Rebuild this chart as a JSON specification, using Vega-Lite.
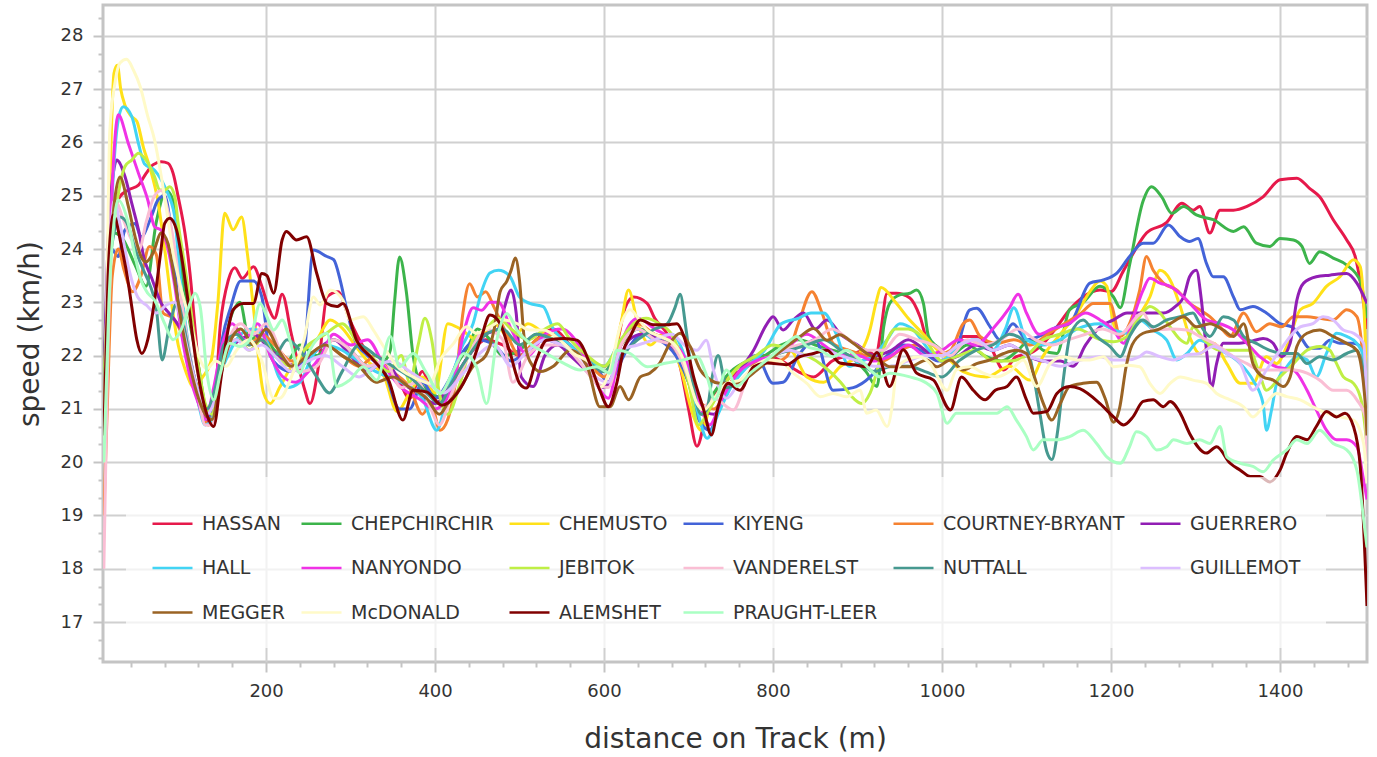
{
  "$schema": "https://vega.github.io/schema/vega-lite/v6.json",
  "description": "Speed along the track for 16 runners",
  "autosize": "none",
  "width": 1264,
  "height": 657,
  "padding": {"left": 103, "top": 5, "right": 10, "bottom": 95},
  "background": "white",
  "config": {
    "view": {"stroke": "#c4c4c4", "strokeWidth": 3},
    "font": "DejaVu Sans",
    "axis": {
      "domain": false,
      "gridColor": "#d0d0d0",
      "gridWidth": 2,
      "tickColor": "#c4c4c4",
      "tickWidth": 2,
      "labelFont": "DejaVu Sans",
      "labelFontSize": 18,
      "labelColor": "#333333",
      "titleFont": "DejaVu Sans",
      "titleFontSize": 28,
      "titleFontWeight": "normal",
      "titleColor": "#333333"
    }
  },
  "data": {
    "values": [
      {"n":"HASSAN","d":8,"v":21.0},{"n":"HASSAN","d":15,"v":23.8},{"n":"HASSAN","d":22,"v":24.8},{"n":"HASSAN","d":27,"v":24.98},{"n":"HASSAN","d":37,"v":25.11},{"n":"HASSAN","d":49,"v":25.2},{"n":"HASSAN","d":58,"v":25.42},{"n":"HASSAN","d":66,"v":25.58},{"n":"HASSAN","d":76,"v":25.64},{"n":"HASSAN","d":84,"v":25.61},{"n":"HASSAN","d":90,"v":25.42},{"n":"HASSAN","d":96,"v":24.98},{"n":"HASSAN","d":104,"v":24.3},{"n":"HASSAN","d":110,"v":23.54},{"n":"HASSAN","d":116,"v":22.5},{"n":"HASSAN","d":122,"v":21.5},{"n":"HASSAN","d":130,"v":20.8},{"n":"HASSAN","d":137,"v":20.7},{"n":"HASSAN","d":146,"v":22.6},{"n":"HASSAN","d":155,"v":23.4},{"n":"HASSAN","d":163,"v":23.65},{"n":"HASSAN","d":172,"v":23.45},{"n":"HASSAN","d":185,"v":23.67},{"n":"HASSAN","d":195,"v":23.3},{"n":"HASSAN","d":203,"v":22.9},{"n":"HASSAN","d":210,"v":22.7},{"n":"HASSAN","d":219,"v":23.15},{"n":"HASSAN","d":230,"v":22.4},{"n":"HASSAN","d":245,"v":21.4},{"n":"HASSAN","d":252,"v":21.1},{"n":"HASSAN","d":262,"v":21.8},{"n":"HASSAN","d":272,"v":23.1},{"n":"HASSAN","d":285,"v":23.2},{"n":"HASSAN","d":299,"v":22.67},{"n":"HASSAN","d":315,"v":22.17},{"n":"HASSAN","d":335,"v":21.8},{"n":"HASSAN","d":355,"v":21.6},{"n":"HASSAN","d":370,"v":21.2},{"n":"HASSAN","d":385,"v":21.7},{"n":"HASSAN","d":400,"v":21.2},{"n":"HASSAN","d":420,"v":21.5},{"n":"HASSAN","d":440,"v":22.0},{"n":"HASSAN","d":460,"v":22.3},{"n":"HASSAN","d":480,"v":22.2},{"n":"HASSAN","d":500,"v":22.0},{"n":"HASSAN","d":520,"v":22.3},{"n":"HASSAN","d":540,"v":22.5},{"n":"HASSAN","d":560,"v":22.2},{"n":"HASSAN","d":580,"v":21.9},{"n":"HASSAN","d":600,"v":21.8},{"n":"HASSAN","d":615,"v":22.2},{"n":"HASSAN","d":625,"v":22.9},{"n":"HASSAN","d":635,"v":23.1},{"n":"HASSAN","d":651,"v":22.98},{"n":"HASSAN","d":660,"v":22.7},{"n":"HASSAN","d":675,"v":22.4},{"n":"HASSAN","d":690,"v":21.8},{"n":"HASSAN","d":700,"v":21.0},{"n":"HASSAN","d":710,"v":20.3},{"n":"HASSAN","d":722,"v":20.98},{"n":"HASSAN","d":733,"v":21.35},{"n":"HASSAN","d":750,"v":21.6},{"n":"HASSAN","d":770,"v":21.8},{"n":"HASSAN","d":790,"v":22.0},{"n":"HASSAN","d":810,"v":21.9},{"n":"HASSAN","d":830,"v":21.7},{"n":"HASSAN","d":848,"v":21.6},{"n":"HASSAN","d":870,"v":21.9},{"n":"HASSAN","d":890,"v":22.0},{"n":"HASSAN","d":910,"v":22.1},{"n":"HASSAN","d":922,"v":22.0},{"n":"HASSAN","d":927,"v":22.4},{"n":"HASSAN","d":935,"v":23.17},{"n":"HASSAN","d":946,"v":23.17},{"n":"HASSAN","d":962,"v":23.08},{"n":"HASSAN","d":974,"v":22.73},{"n":"HASSAN","d":984,"v":22.23},{"n":"HASSAN","d":994,"v":22.17},{"n":"HASSAN","d":1010,"v":21.92},{"n":"HASSAN","d":1025,"v":22.36},{"n":"HASSAN","d":1041,"v":22.36},{"n":"HASSAN","d":1057,"v":22.17},{"n":"HASSAN","d":1073,"v":21.73},{"n":"HASSAN","d":1088,"v":21.98},{"n":"HASSAN","d":1104,"v":22.04},{"n":"HASSAN","d":1120,"v":22.23},{"n":"HASSAN","d":1136,"v":22.54},{"n":"HASSAN","d":1151,"v":22.86},{"n":"HASSAN","d":1167,"v":23.1},{"n":"HASSAN","d":1187,"v":23.23},{"n":"HASSAN","d":1200,"v":23.2},{"n":"HASSAN","d":1215,"v":23.6},{"n":"HASSAN","d":1242,"v":24.3},{"n":"HASSAN","d":1266,"v":24.5},{"n":"HASSAN","d":1284,"v":24.86},{"n":"HASSAN","d":1297,"v":24.73},{"n":"HASSAN","d":1305,"v":24.8},{"n":"HASSAN","d":1317,"v":24.3},{"n":"HASSAN","d":1329,"v":24.73},{"n":"HASSAN","d":1345,"v":24.73},{"n":"HASSAN","d":1361,"v":24.8},{"n":"HASSAN","d":1380,"v":24.98},{"n":"HASSAN","d":1400,"v":25.3},{"n":"HASSAN","d":1420,"v":25.33},{"n":"HASSAN","d":1435,"v":25.14},{"n":"HASSAN","d":1447,"v":24.98},{"n":"HASSAN","d":1463,"v":24.55},{"n":"HASSAN","d":1479,"v":24.17},{"n":"HASSAN","d":1489,"v":23.86},{"n":"HASSAN","d":1497,"v":23.2},{"n":"HASSAN","d":1503,"v":22.5},
      {"n":"CHEPCHIRCHIR","d":8,"v":21.5},{"n":"CHEPCHIRCHIR","d":14,"v":23.8},{"n":"CHEPCHIRCHIR","d":20,"v":24.3},{"n":"CHEPCHIRCHIR","d":30,"v":24.2},{"n":"CHEPCHIRCHIR","d":45,"v":23.7},{"n":"CHEPCHIRCHIR","d":58,"v":23.3},{"n":"CHEPCHIRCHIR","d":70,"v":24.5},{"n":"CHEPCHIRCHIR","d":82,"v":25.1},{"n":"CHEPCHIRCHIR","d":92,"v":24.8},{"n":"CHEPCHIRCHIR","d":100,"v":23.6},{"n":"CHEPCHIRCHIR","d":110,"v":22.6},{"n":"CHEPCHIRCHIR","d":120,"v":21.8},{"n":"CHEPCHIRCHIR","d":130,"v":21.0},{"n":"CHEPCHIRCHIR","d":140,"v":21.3},{"n":"CHEPCHIRCHIR","d":150,"v":22.2},{"n":"CHEPCHIRCHIR","d":169,"v":23.0},{"n":"CHEPCHIRCHIR","d":180,"v":22.3},{"n":"CHEPCHIRCHIR","d":195,"v":22.4},{"n":"CHEPCHIRCHIR","d":210,"v":22.1},{"n":"CHEPCHIRCHIR","d":225,"v":21.9},{"n":"CHEPCHIRCHIR","d":240,"v":22.2},{"n":"CHEPCHIRCHIR","d":260,"v":22.0},{"n":"CHEPCHIRCHIR","d":280,"v":22.3},{"n":"CHEPCHIRCHIR","d":300,"v":22.1},{"n":"CHEPCHIRCHIR","d":320,"v":21.8},{"n":"CHEPCHIRCHIR","d":340,"v":21.9},{"n":"CHEPCHIRCHIR","d":347,"v":22.1},{"n":"CHEPCHIRCHIR","d":352,"v":23.0},{"n":"CHEPCHIRCHIR","d":358,"v":23.85},{"n":"CHEPCHIRCHIR","d":366,"v":23.2},{"n":"CHEPCHIRCHIR","d":374,"v":22.0},{"n":"CHEPCHIRCHIR","d":382,"v":21.5},{"n":"CHEPCHIRCHIR","d":395,"v":21.3},{"n":"CHEPCHIRCHIR","d":410,"v":21.2},{"n":"CHEPCHIRCHIR","d":425,"v":21.8},{"n":"CHEPCHIRCHIR","d":440,"v":22.2},{"n":"CHEPCHIRCHIR","d":450,"v":22.5},{"n":"CHEPCHIRCHIR","d":465,"v":22.3},{"n":"CHEPCHIRCHIR","d":480,"v":22.0},{"n":"CHEPCHIRCHIR","d":500,"v":22.1},{"n":"CHEPCHIRCHIR","d":520,"v":22.4},{"n":"CHEPCHIRCHIR","d":540,"v":22.3},{"n":"CHEPCHIRCHIR","d":560,"v":22.1},{"n":"CHEPCHIRCHIR","d":580,"v":21.9},{"n":"CHEPCHIRCHIR","d":600,"v":21.7},{"n":"CHEPCHIRCHIR","d":620,"v":22.2},{"n":"CHEPCHIRCHIR","d":640,"v":22.5},{"n":"CHEPCHIRCHIR","d":660,"v":22.4},{"n":"CHEPCHIRCHIR","d":680,"v":22.2},{"n":"CHEPCHIRCHIR","d":700,"v":21.5},{"n":"CHEPCHIRCHIR","d":715,"v":20.9},{"n":"CHEPCHIRCHIR","d":730,"v":21.3},{"n":"CHEPCHIRCHIR","d":750,"v":21.7},{"n":"CHEPCHIRCHIR","d":770,"v":21.9},{"n":"CHEPCHIRCHIR","d":790,"v":22.0},{"n":"CHEPCHIRCHIR","d":810,"v":22.2},{"n":"CHEPCHIRCHIR","d":830,"v":22.3},{"n":"CHEPCHIRCHIR","d":850,"v":22.2},{"n":"CHEPCHIRCHIR","d":870,"v":22.1},{"n":"CHEPCHIRCHIR","d":890,"v":22.0},{"n":"CHEPCHIRCHIR","d":910,"v":21.7},{"n":"CHEPCHIRCHIR","d":923,"v":21.42},{"n":"CHEPCHIRCHIR","d":931,"v":22.54},{"n":"CHEPCHIRCHIR","d":938,"v":22.98},{"n":"CHEPCHIRCHIR","d":950,"v":23.14},{"n":"CHEPCHIRCHIR","d":962,"v":23.17},{"n":"CHEPCHIRCHIR","d":970,"v":23.23},{"n":"CHEPCHIRCHIR","d":978,"v":22.98},{"n":"CHEPCHIRCHIR","d":984,"v":22.36},{"n":"CHEPCHIRCHIR","d":994,"v":22.17},{"n":"CHEPCHIRCHIR","d":1010,"v":22.0},{"n":"CHEPCHIRCHIR","d":1030,"v":22.2},{"n":"CHEPCHIRCHIR","d":1050,"v":22.0},{"n":"CHEPCHIRCHIR","d":1070,"v":21.9},{"n":"CHEPCHIRCHIR","d":1090,"v":22.1},{"n":"CHEPCHIRCHIR","d":1104,"v":22.3},{"n":"CHEPCHIRCHIR","d":1120,"v":22.1},{"n":"CHEPCHIRCHIR","d":1136,"v":22.04},{"n":"CHEPCHIRCHIR","d":1151,"v":22.86},{"n":"CHEPCHIRCHIR","d":1167,"v":23.0},{"n":"CHEPCHIRCHIR","d":1187,"v":23.3},{"n":"CHEPCHIRCHIR","d":1203,"v":23.1},{"n":"CHEPCHIRCHIR","d":1211,"v":22.9},{"n":"CHEPCHIRCHIR","d":1222,"v":23.7},{"n":"CHEPCHIRCHIR","d":1238,"v":24.9},{"n":"CHEPCHIRCHIR","d":1248,"v":25.17},{"n":"CHEPCHIRCHIR","d":1260,"v":24.98},{"n":"CHEPCHIRCHIR","d":1272,"v":24.67},{"n":"CHEPCHIRCHIR","d":1286,"v":24.8},{"n":"CHEPCHIRCHIR","d":1301,"v":24.64},{"n":"CHEPCHIRCHIR","d":1321,"v":24.55},{"n":"CHEPCHIRCHIR","d":1345,"v":24.33},{"n":"CHEPCHIRCHIR","d":1357,"v":24.42},{"n":"CHEPCHIRCHIR","d":1372,"v":24.11},{"n":"CHEPCHIRCHIR","d":1388,"v":24.05},{"n":"CHEPCHIRCHIR","d":1400,"v":24.2},{"n":"CHEPCHIRCHIR","d":1416,"v":24.17},{"n":"CHEPCHIRCHIR","d":1426,"v":24.05},{"n":"CHEPCHIRCHIR","d":1435,"v":23.73},{"n":"CHEPCHIRCHIR","d":1447,"v":23.95},{"n":"CHEPCHIRCHIR","d":1463,"v":23.83},{"n":"CHEPCHIRCHIR","d":1479,"v":23.7},{"n":"CHEPCHIRCHIR","d":1495,"v":23.4},{"n":"CHEPCHIRCHIR","d":1503,"v":22.7},
      {"n":"CHEMUSTO","d":8,"v":20.5},{"n":"CHEMUSTO","d":14,"v":24.5},{"n":"CHEMUSTO","d":20,"v":27.3},{"n":"CHEMUSTO","d":24,"v":27.45},{"n":"CHEMUSTO","d":28,"v":27.0},{"n":"CHEMUSTO","d":33,"v":26.7},{"n":"CHEMUSTO","d":40,"v":26.5},{"n":"CHEMUSTO","d":47,"v":26.4},{"n":"CHEMUSTO","d":55,"v":25.9},{"n":"CHEMUSTO","d":63,"v":25.5},{"n":"CHEMUSTO","d":72,"v":24.9},{"n":"CHEMUSTO","d":80,"v":24.0},{"n":"CHEMUSTO","d":88,"v":23.0},{"n":"CHEMUSTO","d":96,"v":22.2},{"n":"CHEMUSTO","d":105,"v":21.7},{"n":"CHEMUSTO","d":115,"v":21.4},{"n":"CHEMUSTO","d":125,"v":21.6},{"n":"CHEMUSTO","d":135,"v":21.9},{"n":"CHEMUSTO","d":143,"v":23.0},{"n":"CHEMUSTO","d":151,"v":24.67},{"n":"CHEMUSTO","d":161,"v":24.36},{"n":"CHEMUSTO","d":171,"v":24.6},{"n":"CHEMUSTO","d":178,"v":23.9},{"n":"CHEMUSTO","d":185,"v":22.9},{"n":"CHEMUSTO","d":197,"v":21.3},{"n":"CHEMUSTO","d":205,"v":21.1},{"n":"CHEMUSTO","d":216,"v":21.4},{"n":"CHEMUSTO","d":230,"v":21.8},{"n":"CHEMUSTO","d":245,"v":22.1},{"n":"CHEMUSTO","d":260,"v":22.3},{"n":"CHEMUSTO","d":276,"v":22.67},{"n":"CHEMUSTO","d":291,"v":22.5},{"n":"CHEMUSTO","d":305,"v":22.2},{"n":"CHEMUSTO","d":320,"v":21.9},{"n":"CHEMUSTO","d":340,"v":21.6},{"n":"CHEMUSTO","d":355,"v":20.95},{"n":"CHEMUSTO","d":370,"v":21.3},{"n":"CHEMUSTO","d":385,"v":21.6},{"n":"CHEMUSTO","d":400,"v":21.3},{"n":"CHEMUSTO","d":415,"v":22.6},{"n":"CHEMUSTO","d":430,"v":22.5},{"n":"CHEMUSTO","d":450,"v":22.3},{"n":"CHEMUSTO","d":470,"v":22.6},{"n":"CHEMUSTO","d":490,"v":22.3},{"n":"CHEMUSTO","d":510,"v":22.6},{"n":"CHEMUSTO","d":530,"v":22.4},{"n":"CHEMUSTO","d":550,"v":22.2},{"n":"CHEMUSTO","d":570,"v":22.0},{"n":"CHEMUSTO","d":590,"v":21.8},{"n":"CHEMUSTO","d":605,"v":21.7},{"n":"CHEMUSTO","d":620,"v":22.6},{"n":"CHEMUSTO","d":629,"v":23.23},{"n":"CHEMUSTO","d":640,"v":22.6},{"n":"CHEMUSTO","d":655,"v":22.2},{"n":"CHEMUSTO","d":670,"v":22.4},{"n":"CHEMUSTO","d":690,"v":21.8},{"n":"CHEMUSTO","d":705,"v":20.9},{"n":"CHEMUSTO","d":715,"v":20.6},{"n":"CHEMUSTO","d":725,"v":21.0},{"n":"CHEMUSTO","d":740,"v":21.4},{"n":"CHEMUSTO","d":760,"v":21.8},{"n":"CHEMUSTO","d":780,"v":21.9},{"n":"CHEMUSTO","d":800,"v":22.0},{"n":"CHEMUSTO","d":820,"v":22.1},{"n":"CHEMUSTO","d":840,"v":21.6},{"n":"CHEMUSTO","d":860,"v":21.5},{"n":"CHEMUSTO","d":880,"v":21.8},{"n":"CHEMUSTO","d":900,"v":22.0},{"n":"CHEMUSTO","d":915,"v":22.5},{"n":"CHEMUSTO","d":922,"v":23.0},{"n":"CHEMUSTO","d":928,"v":23.28},{"n":"CHEMUSTO","d":945,"v":23.0},{"n":"CHEMUSTO","d":960,"v":22.7},{"n":"CHEMUSTO","d":978,"v":22.4},{"n":"CHEMUSTO","d":995,"v":22.1},{"n":"CHEMUSTO","d":1010,"v":21.9},{"n":"CHEMUSTO","d":1025,"v":21.7},{"n":"CHEMUSTO","d":1053,"v":21.6},{"n":"CHEMUSTO","d":1080,"v":21.8},{"n":"CHEMUSTO","d":1104,"v":21.54},{"n":"CHEMUSTO","d":1120,"v":22.0},{"n":"CHEMUSTO","d":1140,"v":22.4},{"n":"CHEMUSTO","d":1160,"v":22.8},{"n":"CHEMUSTO","d":1175,"v":23.2},{"n":"CHEMUSTO","d":1187,"v":23.4},{"n":"CHEMUSTO","d":1195,"v":23.3},{"n":"CHEMUSTO","d":1203,"v":22.6},{"n":"CHEMUSTO","d":1211,"v":22.4},{"n":"CHEMUSTO","d":1225,"v":22.6},{"n":"CHEMUSTO","d":1246,"v":23.1},{"n":"CHEMUSTO","d":1258,"v":23.6},{"n":"CHEMUSTO","d":1270,"v":23.42},{"n":"CHEMUSTO","d":1282,"v":22.92},{"n":"CHEMUSTO","d":1293,"v":22.36},{"n":"CHEMUSTO","d":1305,"v":22.04},{"n":"CHEMUSTO","d":1321,"v":22.23},{"n":"CHEMUSTO","d":1337,"v":21.85},{"n":"CHEMUSTO","d":1353,"v":21.48},{"n":"CHEMUSTO","d":1368,"v":21.48},{"n":"CHEMUSTO","d":1384,"v":21.98},{"n":"CHEMUSTO","d":1396,"v":21.85},{"n":"CHEMUSTO","d":1408,"v":22.17},{"n":"CHEMUSTO","d":1424,"v":22.86},{"n":"CHEMUSTO","d":1439,"v":22.98},{"n":"CHEMUSTO","d":1455,"v":23.3},{"n":"CHEMUSTO","d":1471,"v":23.48},{"n":"CHEMUSTO","d":1487,"v":23.8},{"n":"CHEMUSTO","d":1495,"v":23.67},{"n":"CHEMUSTO","d":1500,"v":22.7},{"n":"CHEMUSTO","d":1503,"v":21.5},
      {"n":"KIYENG","d":8,"v":21.5},{"n":"KIYENG","d":14,"v":23.5},{"n":"KIYENG","d":17,"v":24.0},{"n":"KIYENG","d":25,"v":23.86},{"n":"KIYENG","d":33,"v":24.36},{"n":"KIYENG","d":45,"v":24.48},{"n":"KIYENG","d":52,"v":24.23},{"n":"KIYENG","d":64,"v":24.6},{"n":"KIYENG","d":72,"v":24.92},{"n":"KIYENG","d":80,"v":25.0},{"n":"KIYENG","d":88,"v":24.3},{"n":"KIYENG","d":96,"v":23.0},{"n":"KIYENG","d":104,"v":22.3},{"n":"KIYENG","d":112,"v":21.6},{"n":"KIYENG","d":120,"v":21.2},{"n":"KIYENG","d":128,"v":20.8},{"n":"KIYENG","d":138,"v":21.0},{"n":"KIYENG","d":148,"v":22.3},{"n":"KIYENG","d":158,"v":22.9},{"n":"KIYENG","d":170,"v":23.4},{"n":"KIYENG","d":185,"v":23.4},{"n":"KIYENG","d":195,"v":23.1},{"n":"KIYENG","d":205,"v":22.0},{"n":"KIYENG","d":215,"v":21.8},{"n":"KIYENG","d":230,"v":21.7},{"n":"KIYENG","d":244,"v":21.92},{"n":"KIYENG","d":256,"v":23.98},{"n":"KIYENG","d":272,"v":23.86},{"n":"KIYENG","d":280,"v":23.8},{"n":"KIYENG","d":288,"v":23.4},{"n":"KIYENG","d":295,"v":22.9},{"n":"KIYENG","d":305,"v":22.3},{"n":"KIYENG","d":320,"v":22.0},{"n":"KIYENG","d":340,"v":21.7},{"n":"KIYENG","d":358,"v":21.0},{"n":"KIYENG","d":370,"v":21.0},{"n":"KIYENG","d":385,"v":21.5},{"n":"KIYENG","d":400,"v":21.2},{"n":"KIYENG","d":415,"v":21.5},{"n":"KIYENG","d":430,"v":22.0},{"n":"KIYENG","d":450,"v":22.3},{"n":"KIYENG","d":470,"v":22.2},{"n":"KIYENG","d":490,"v":21.9},{"n":"KIYENG","d":510,"v":22.1},{"n":"KIYENG","d":530,"v":22.3},{"n":"KIYENG","d":550,"v":22.2},{"n":"KIYENG","d":570,"v":22.0},{"n":"KIYENG","d":590,"v":21.8},{"n":"KIYENG","d":605,"v":21.5},{"n":"KIYENG","d":627,"v":22.1},{"n":"KIYENG","d":645,"v":22.4},{"n":"KIYENG","d":665,"v":22.3},{"n":"KIYENG","d":685,"v":22.0},{"n":"KIYENG","d":700,"v":21.5},{"n":"KIYENG","d":712,"v":20.8},{"n":"KIYENG","d":725,"v":20.6},{"n":"KIYENG","d":740,"v":21.2},{"n":"KIYENG","d":760,"v":21.7},{"n":"KIYENG","d":780,"v":22.0},{"n":"KIYENG","d":800,"v":21.48},{"n":"KIYENG","d":812,"v":21.5},{"n":"KIYENG","d":830,"v":22.0},{"n":"KIYENG","d":850,"v":22.3},{"n":"KIYENG","d":871,"v":21.35},{"n":"KIYENG","d":895,"v":21.4},{"n":"KIYENG","d":915,"v":21.6},{"n":"KIYENG","d":935,"v":22.0},{"n":"KIYENG","d":955,"v":22.2},{"n":"KIYENG","d":975,"v":22.1},{"n":"KIYENG","d":995,"v":21.9},{"n":"KIYENG","d":1013,"v":21.98},{"n":"KIYENG","d":1033,"v":22.86},{"n":"KIYENG","d":1041,"v":22.89},{"n":"KIYENG","d":1057,"v":22.54},{"n":"KIYENG","d":1069,"v":22.29},{"n":"KIYENG","d":1084,"v":22.6},{"n":"KIYENG","d":1100,"v":22.3},{"n":"KIYENG","d":1120,"v":22.4},{"n":"KIYENG","d":1136,"v":22.54},{"n":"KIYENG","d":1151,"v":22.6},{"n":"KIYENG","d":1175,"v":23.36},{"n":"KIYENG","d":1191,"v":23.42},{"n":"KIYENG","d":1207,"v":23.55},{"n":"KIYENG","d":1222,"v":23.86},{"n":"KIYENG","d":1238,"v":24.11},{"n":"KIYENG","d":1250,"v":24.11},{"n":"KIYENG","d":1268,"v":24.45},{"n":"KIYENG","d":1282,"v":24.23},{"n":"KIYENG","d":1293,"v":24.14},{"n":"KIYENG","d":1303,"v":24.2},{"n":"KIYENG","d":1313,"v":23.73},{"n":"KIYENG","d":1321,"v":23.48},{"n":"KIYENG","d":1333,"v":23.48},{"n":"KIYENG","d":1345,"v":23.1},{"n":"KIYENG","d":1353,"v":22.86},{"n":"KIYENG","d":1368,"v":22.92},{"n":"KIYENG","d":1384,"v":22.8},{"n":"KIYENG","d":1400,"v":22.6},{"n":"KIYENG","d":1414,"v":22.54},{"n":"KIYENG","d":1424,"v":22.36},{"n":"KIYENG","d":1435,"v":22.14},{"n":"KIYENG","d":1447,"v":22.14},{"n":"KIYENG","d":1459,"v":22.29},{"n":"KIYENG","d":1471,"v":22.23},{"n":"KIYENG","d":1487,"v":22.23},{"n":"KIYENG","d":1499,"v":22.1},{"n":"KIYENG","d":1503,"v":21.0},
      {"n":"COURTNEY-BRYANT","d":8,"v":19.0},{"n":"COURTNEY-BRYANT","d":12,"v":21.0},{"n":"COURTNEY-BRYANT","d":18,"v":23.5},{"n":"COURTNEY-BRYANT","d":25,"v":24.0},{"n":"COURTNEY-BRYANT","d":32,"v":23.6},{"n":"COURTNEY-BRYANT","d":42,"v":23.2},{"n":"COURTNEY-BRYANT","d":52,"v":23.5},{"n":"COURTNEY-BRYANT","d":62,"v":24.05},{"n":"COURTNEY-BRYANT","d":70,"v":23.9},{"n":"COURTNEY-BRYANT","d":78,"v":22.8},{"n":"COURTNEY-BRYANT","d":90,"v":22.7},{"n":"COURTNEY-BRYANT","d":100,"v":22.4},{"n":"COURTNEY-BRYANT","d":110,"v":21.8},{"n":"COURTNEY-BRYANT","d":122,"v":21.0},{"n":"COURTNEY-BRYANT","d":132,"v":20.7},{"n":"COURTNEY-BRYANT","d":140,"v":21.1},{"n":"COURTNEY-BRYANT","d":150,"v":21.9},{"n":"COURTNEY-BRYANT","d":165,"v":22.3},{"n":"COURTNEY-BRYANT","d":180,"v":22.2},{"n":"COURTNEY-BRYANT","d":195,"v":22.4},{"n":"COURTNEY-BRYANT","d":210,"v":22.2},{"n":"COURTNEY-BRYANT","d":230,"v":21.9},{"n":"COURTNEY-BRYANT","d":250,"v":22.0},{"n":"COURTNEY-BRYANT","d":270,"v":22.2},{"n":"COURTNEY-BRYANT","d":290,"v":22.0},{"n":"COURTNEY-BRYANT","d":310,"v":21.8},{"n":"COURTNEY-BRYANT","d":330,"v":22.0},{"n":"COURTNEY-BRYANT","d":350,"v":21.7},{"n":"COURTNEY-BRYANT","d":370,"v":21.4},{"n":"COURTNEY-BRYANT","d":385,"v":20.9},{"n":"COURTNEY-BRYANT","d":395,"v":21.1},{"n":"COURTNEY-BRYANT","d":406,"v":20.6},{"n":"COURTNEY-BRYANT","d":415,"v":20.8},{"n":"COURTNEY-BRYANT","d":425,"v":21.6},{"n":"COURTNEY-BRYANT","d":433,"v":22.8},{"n":"COURTNEY-BRYANT","d":441,"v":23.35},{"n":"COURTNEY-BRYANT","d":450,"v":23.1},{"n":"COURTNEY-BRYANT","d":460,"v":23.2},{"n":"COURTNEY-BRYANT","d":470,"v":22.9},{"n":"COURTNEY-BRYANT","d":485,"v":22.4},{"n":"COURTNEY-BRYANT","d":500,"v":22.0},{"n":"COURTNEY-BRYANT","d":520,"v":22.3},{"n":"COURTNEY-BRYANT","d":540,"v":22.4},{"n":"COURTNEY-BRYANT","d":560,"v":22.2},{"n":"COURTNEY-BRYANT","d":580,"v":21.9},{"n":"COURTNEY-BRYANT","d":600,"v":21.6},{"n":"COURTNEY-BRYANT","d":620,"v":22.2},{"n":"COURTNEY-BRYANT","d":640,"v":22.6},{"n":"COURTNEY-BRYANT","d":660,"v":22.4},{"n":"COURTNEY-BRYANT","d":680,"v":22.3},{"n":"COURTNEY-BRYANT","d":700,"v":21.7},{"n":"COURTNEY-BRYANT","d":715,"v":21.1},{"n":"COURTNEY-BRYANT","d":730,"v":21.0},{"n":"COURTNEY-BRYANT","d":750,"v":21.5},{"n":"COURTNEY-BRYANT","d":770,"v":21.8},{"n":"COURTNEY-BRYANT","d":790,"v":21.9},{"n":"COURTNEY-BRYANT","d":805,"v":21.9},{"n":"COURTNEY-BRYANT","d":816,"v":21.98},{"n":"COURTNEY-BRYANT","d":830,"v":22.6},{"n":"COURTNEY-BRYANT","d":846,"v":23.2},{"n":"COURTNEY-BRYANT","d":858,"v":22.8},{"n":"COURTNEY-BRYANT","d":871,"v":22.23},{"n":"COURTNEY-BRYANT","d":890,"v":22.1},{"n":"COURTNEY-BRYANT","d":910,"v":22.0},{"n":"COURTNEY-BRYANT","d":930,"v":21.9},{"n":"COURTNEY-BRYANT","d":950,"v":22.1},{"n":"COURTNEY-BRYANT","d":970,"v":22.2},{"n":"COURTNEY-BRYANT","d":990,"v":22.0},{"n":"COURTNEY-BRYANT","d":1010,"v":22.1},{"n":"COURTNEY-BRYANT","d":1025,"v":22.6},{"n":"COURTNEY-BRYANT","d":1033,"v":22.67},{"n":"COURTNEY-BRYANT","d":1045,"v":22.36},{"n":"COURTNEY-BRYANT","d":1065,"v":22.23},{"n":"COURTNEY-BRYANT","d":1085,"v":22.3},{"n":"COURTNEY-BRYANT","d":1105,"v":22.2},{"n":"COURTNEY-BRYANT","d":1125,"v":22.4},{"n":"COURTNEY-BRYANT","d":1145,"v":22.6},{"n":"COURTNEY-BRYANT","d":1165,"v":22.8},{"n":"COURTNEY-BRYANT","d":1179,"v":22.98},{"n":"COURTNEY-BRYANT","d":1199,"v":22.98},{"n":"COURTNEY-BRYANT","d":1211,"v":22.36},{"n":"COURTNEY-BRYANT","d":1222,"v":22.6},{"n":"COURTNEY-BRYANT","d":1234,"v":23.23},{"n":"COURTNEY-BRYANT","d":1242,"v":23.86},{"n":"COURTNEY-BRYANT","d":1250,"v":23.6},{"n":"COURTNEY-BRYANT","d":1262,"v":23.36},{"n":"COURTNEY-BRYANT","d":1278,"v":23.23},{"n":"COURTNEY-BRYANT","d":1293,"v":22.98},{"n":"COURTNEY-BRYANT","d":1305,"v":22.86},{"n":"COURTNEY-BRYANT","d":1317,"v":22.73},{"n":"COURTNEY-BRYANT","d":1329,"v":22.54},{"n":"COURTNEY-BRYANT","d":1341,"v":22.36},{"n":"COURTNEY-BRYANT","d":1357,"v":22.8},{"n":"COURTNEY-BRYANT","d":1372,"v":22.45},{"n":"COURTNEY-BRYANT","d":1388,"v":22.6},{"n":"COURTNEY-BRYANT","d":1402,"v":22.54},{"n":"COURTNEY-BRYANT","d":1416,"v":22.73},{"n":"COURTNEY-BRYANT","d":1432,"v":22.73},{"n":"COURTNEY-BRYANT","d":1447,"v":22.7},{"n":"COURTNEY-BRYANT","d":1463,"v":22.67},{"n":"COURTNEY-BRYANT","d":1479,"v":22.86},{"n":"COURTNEY-BRYANT","d":1491,"v":22.73},{"n":"COURTNEY-BRYANT","d":1499,"v":21.8},{"n":"COURTNEY-BRYANT","d":1503,"v":20.8},
      {"n":"GUERRERO","d":8,"v":21.5},{"n":"GUERRERO","d":14,"v":24.5},{"n":"GUERRERO","d":20,"v":25.5},{"n":"GUERRERO","d":23,"v":25.67},{"n":"GUERRERO","d":33,"v":25.36},{"n":"GUERRERO","d":41,"v":24.86},{"n":"GUERRERO","d":49,"v":24.36},{"n":"GUERRERO","d":56,"v":23.8},{"n":"GUERRERO","d":64,"v":23.48},{"n":"GUERRERO","d":76,"v":22.98},{"n":"GUERRERO","d":85,"v":22.8},{"n":"GUERRERO","d":95,"v":22.6},{"n":"GUERRERO","d":105,"v":22.3},{"n":"GUERRERO","d":115,"v":21.6},{"n":"GUERRERO","d":125,"v":21.1},{"n":"GUERRERO","d":135,"v":21.0},{"n":"GUERRERO","d":145,"v":21.8},{"n":"GUERRERO","d":155,"v":22.1},{"n":"GUERRERO","d":170,"v":22.3},{"n":"GUERRERO","d":185,"v":22.4},{"n":"GUERRERO","d":200,"v":22.2},{"n":"GUERRERO","d":220,"v":21.9},{"n":"GUERRERO","d":240,"v":21.8},{"n":"GUERRERO","d":260,"v":22.1},{"n":"GUERRERO","d":280,"v":22.3},{"n":"GUERRERO","d":300,"v":22.0},{"n":"GUERRERO","d":320,"v":21.7},{"n":"GUERRERO","d":340,"v":21.9},{"n":"GUERRERO","d":360,"v":21.5},{"n":"GUERRERO","d":380,"v":21.3},{"n":"GUERRERO","d":400,"v":21.1},{"n":"GUERRERO","d":420,"v":21.5},{"n":"GUERRERO","d":440,"v":22.0},{"n":"GUERRERO","d":460,"v":22.4},{"n":"GUERRERO","d":475,"v":22.5},{"n":"GUERRERO","d":482,"v":22.9},{"n":"GUERRERO","d":490,"v":23.23},{"n":"GUERRERO","d":496,"v":22.8},{"n":"GUERRERO","d":502,"v":21.6},{"n":"GUERRERO","d":516,"v":21.42},{"n":"GUERRERO","d":530,"v":22.0},{"n":"GUERRERO","d":545,"v":22.2},{"n":"GUERRERO","d":560,"v":22.0},{"n":"GUERRERO","d":580,"v":21.7},{"n":"GUERRERO","d":600,"v":21.4},{"n":"GUERRERO","d":615,"v":21.8},{"n":"GUERRERO","d":630,"v":22.3},{"n":"GUERRERO","d":645,"v":22.4},{"n":"GUERRERO","d":665,"v":22.3},{"n":"GUERRERO","d":685,"v":22.1},{"n":"GUERRERO","d":700,"v":21.7},{"n":"GUERRERO","d":715,"v":21.0},{"n":"GUERRERO","d":730,"v":20.9},{"n":"GUERRERO","d":745,"v":21.3},{"n":"GUERRERO","d":760,"v":21.7},{"n":"GUERRERO","d":777,"v":22.1},{"n":"GUERRERO","d":793,"v":22.6},{"n":"GUERRERO","d":800,"v":22.73},{"n":"GUERRERO","d":812,"v":22.48},{"n":"GUERRERO","d":824,"v":22.67},{"n":"GUERRERO","d":836,"v":22.8},{"n":"GUERRERO","d":850,"v":22.5},{"n":"GUERRERO","d":864,"v":22.67},{"n":"GUERRERO","d":880,"v":22.4},{"n":"GUERRERO","d":900,"v":22.2},{"n":"GUERRERO","d":920,"v":22.0},{"n":"GUERRERO","d":940,"v":22.1},{"n":"GUERRERO","d":960,"v":22.3},{"n":"GUERRERO","d":980,"v":22.1},{"n":"GUERRERO","d":1000,"v":21.9},{"n":"GUERRERO","d":1020,"v":22.0},{"n":"GUERRERO","d":1040,"v":22.2},{"n":"GUERRERO","d":1060,"v":22.1},{"n":"GUERRERO","d":1080,"v":22.2},{"n":"GUERRERO","d":1100,"v":22.0},{"n":"GUERRERO","d":1120,"v":21.9},{"n":"GUERRERO","d":1140,"v":21.9},{"n":"GUERRERO","d":1155,"v":21.8},{"n":"GUERRERO","d":1170,"v":22.2},{"n":"GUERRERO","d":1187,"v":22.54},{"n":"GUERRERO","d":1203,"v":22.67},{"n":"GUERRERO","d":1219,"v":22.8},{"n":"GUERRERO","d":1242,"v":22.8},{"n":"GUERRERO","d":1262,"v":22.8},{"n":"GUERRERO","d":1276,"v":22.92},{"n":"GUERRERO","d":1286,"v":23.1},{"n":"GUERRERO","d":1293,"v":23.48},{"n":"GUERRERO","d":1301,"v":23.6},{"n":"GUERRERO","d":1307,"v":23.04},{"n":"GUERRERO","d":1313,"v":22.1},{"n":"GUERRERO","d":1319,"v":21.4},{"n":"GUERRERO","d":1325,"v":21.85},{"n":"GUERRERO","d":1333,"v":22.23},{"n":"GUERRERO","d":1349,"v":22.23},{"n":"GUERRERO","d":1364,"v":22.26},{"n":"GUERRERO","d":1380,"v":22.32},{"n":"GUERRERO","d":1392,"v":22.23},{"n":"GUERRERO","d":1402,"v":21.98},{"n":"GUERRERO","d":1412,"v":22.23},{"n":"GUERRERO","d":1420,"v":23.04},{"n":"GUERRERO","d":1428,"v":23.36},{"n":"GUERRERO","d":1443,"v":23.48},{"n":"GUERRERO","d":1459,"v":23.51},{"n":"GUERRERO","d":1479,"v":23.54},{"n":"GUERRERO","d":1491,"v":23.36},{"n":"GUERRERO","d":1503,"v":22.98},
      {"n":"HALL","d":8,"v":20.0},{"n":"HALL","d":14,"v":23.5},{"n":"HALL","d":20,"v":25.6},{"n":"HALL","d":26,"v":26.5},{"n":"HALL","d":31,"v":26.67},{"n":"HALL","d":41,"v":26.49},{"n":"HALL","d":49,"v":25.98},{"n":"HALL","d":56,"v":25.6},{"n":"HALL","d":68,"v":25.48},{"n":"HALL","d":80,"v":25.17},{"n":"HALL","d":92,"v":24.6},{"n":"HALL","d":96,"v":23.86},{"n":"HALL","d":104,"v":22.67},{"n":"HALL","d":112,"v":21.8},{"n":"HALL","d":120,"v":21.1},{"n":"HALL","d":128,"v":20.7},{"n":"HALL","d":136,"v":20.8},{"n":"HALL","d":145,"v":21.6},{"n":"HALL","d":155,"v":22.0},{"n":"HALL","d":170,"v":22.4},{"n":"HALL","d":185,"v":22.5},{"n":"HALL","d":200,"v":22.3},{"n":"HALL","d":215,"v":21.6},{"n":"HALL","d":225,"v":21.4},{"n":"HALL","d":240,"v":21.5},{"n":"HALL","d":255,"v":22.0},{"n":"HALL","d":270,"v":22.2},{"n":"HALL","d":290,"v":22.1},{"n":"HALL","d":300,"v":22.0},{"n":"HALL","d":330,"v":21.7},{"n":"HALL","d":360,"v":21.5},{"n":"HALL","d":385,"v":21.2},{"n":"HALL","d":402,"v":20.6},{"n":"HALL","d":415,"v":21.3},{"n":"HALL","d":430,"v":22.1},{"n":"HALL","d":445,"v":22.6},{"n":"HALL","d":455,"v":23.2},{"n":"HALL","d":465,"v":23.55},{"n":"HALL","d":475,"v":23.6},{"n":"HALL","d":488,"v":23.5},{"n":"HALL","d":500,"v":23.1},{"n":"HALL","d":512,"v":22.98},{"n":"HALL","d":528,"v":22.92},{"n":"HALL","d":540,"v":22.5},{"n":"HALL","d":560,"v":22.2},{"n":"HALL","d":580,"v":21.9},{"n":"HALL","d":600,"v":21.8},{"n":"HALL","d":620,"v":22.3},{"n":"HALL","d":640,"v":22.5},{"n":"HALL","d":660,"v":22.3},{"n":"HALL","d":680,"v":22.4},{"n":"HALL","d":695,"v":22.0},{"n":"HALL","d":710,"v":21.0},{"n":"HALL","d":722,"v":20.45},{"n":"HALL","d":735,"v":20.9},{"n":"HALL","d":750,"v":21.4},{"n":"HALL","d":770,"v":21.8},{"n":"HALL","d":790,"v":22.1},{"n":"HALL","d":810,"v":22.6},{"n":"HALL","d":830,"v":22.7},{"n":"HALL","d":845,"v":22.8},{"n":"HALL","d":860,"v":22.8},{"n":"HALL","d":875,"v":22.4},{"n":"HALL","d":890,"v":21.8},{"n":"HALL","d":905,"v":21.9},{"n":"HALL","d":920,"v":22.0},{"n":"HALL","d":935,"v":22.3},{"n":"HALL","d":950,"v":22.6},{"n":"HALL","d":965,"v":22.5},{"n":"HALL","d":985,"v":22.1},{"n":"HALL","d":1000,"v":21.9},{"n":"HALL","d":1020,"v":22.2},{"n":"HALL","d":1040,"v":22.3},{"n":"HALL","d":1060,"v":22.1},{"n":"HALL","d":1075,"v":22.5},{"n":"HALL","d":1085,"v":22.9},{"n":"HALL","d":1100,"v":22.3},{"n":"HALL","d":1120,"v":22.2},{"n":"HALL","d":1140,"v":22.3},{"n":"HALL","d":1160,"v":22.5},{"n":"HALL","d":1187,"v":22.6},{"n":"HALL","d":1203,"v":22.48},{"n":"HALL","d":1219,"v":22.42},{"n":"HALL","d":1234,"v":22.67},{"n":"HALL","d":1250,"v":22.48},{"n":"HALL","d":1266,"v":22.29},{"n":"HALL","d":1278,"v":21.92},{"n":"HALL","d":1290,"v":22.04},{"n":"HALL","d":1305,"v":22.29},{"n":"HALL","d":1321,"v":22.17},{"n":"HALL","d":1337,"v":22.04},{"n":"HALL","d":1353,"v":21.85},{"n":"HALL","d":1368,"v":21.54},{"n":"HALL","d":1380,"v":21.1},{"n":"HALL","d":1384,"v":20.6},{"n":"HALL","d":1390,"v":20.98},{"n":"HALL","d":1396,"v":21.48},{"n":"HALL","d":1408,"v":21.79},{"n":"HALL","d":1420,"v":21.98},{"n":"HALL","d":1432,"v":21.92},{"n":"HALL","d":1443,"v":21.6},{"n":"HALL","d":1455,"v":22.04},{"n":"HALL","d":1467,"v":22.42},{"n":"HALL","d":1479,"v":22.36},{"n":"HALL","d":1491,"v":22.23},{"n":"HALL","d":1499,"v":21.98},{"n":"HALL","d":1503,"v":20.5},
      {"n":"NANYONDO","d":8,"v":20.5},{"n":"NANYONDO","d":14,"v":23.5},{"n":"NANYONDO","d":20,"v":25.8},{"n":"NANYONDO","d":25,"v":26.52},{"n":"NANYONDO","d":37,"v":25.98},{"n":"NANYONDO","d":49,"v":25.42},{"n":"NANYONDO","d":60,"v":24.92},{"n":"NANYONDO","d":68,"v":24.42},{"n":"NANYONDO","d":76,"v":24.35},{"n":"NANYONDO","d":84,"v":24.0},{"n":"NANYONDO","d":92,"v":23.3},{"n":"NANYONDO","d":100,"v":22.4},{"n":"NANYONDO","d":110,"v":21.6},{"n":"NANYONDO","d":120,"v":21.1},{"n":"NANYONDO","d":128,"v":20.8},{"n":"NANYONDO","d":138,"v":21.4},{"n":"NANYONDO","d":148,"v":22.2},{"n":"NANYONDO","d":160,"v":22.6},{"n":"NANYONDO","d":175,"v":22.3},{"n":"NANYONDO","d":190,"v":22.6},{"n":"NANYONDO","d":205,"v":22.0},{"n":"NANYONDO","d":220,"v":21.6},{"n":"NANYONDO","d":235,"v":21.5},{"n":"NANYONDO","d":250,"v":21.7},{"n":"NANYONDO","d":265,"v":22.0},{"n":"NANYONDO","d":280,"v":22.4},{"n":"NANYONDO","d":300,"v":22.2},{"n":"NANYONDO","d":320,"v":22.3},{"n":"NANYONDO","d":340,"v":21.8},{"n":"NANYONDO","d":360,"v":21.4},{"n":"NANYONDO","d":380,"v":21.2},{"n":"NANYONDO","d":400,"v":21.0},{"n":"NANYONDO","d":420,"v":21.4},{"n":"NANYONDO","d":435,"v":22.5},{"n":"NANYONDO","d":445,"v":22.9},{"n":"NANYONDO","d":455,"v":22.85},{"n":"NANYONDO","d":465,"v":23.0},{"n":"NANYONDO","d":475,"v":23.0},{"n":"NANYONDO","d":490,"v":22.5},{"n":"NANYONDO","d":510,"v":22.0},{"n":"NANYONDO","d":530,"v":22.4},{"n":"NANYONDO","d":550,"v":22.5},{"n":"NANYONDO","d":570,"v":22.2},{"n":"NANYONDO","d":590,"v":21.5},{"n":"NANYONDO","d":605,"v":21.2},{"n":"NANYONDO","d":620,"v":22.2},{"n":"NANYONDO","d":640,"v":22.7},{"n":"NANYONDO","d":660,"v":22.5},{"n":"NANYONDO","d":680,"v":22.3},{"n":"NANYONDO","d":700,"v":21.8},{"n":"NANYONDO","d":715,"v":21.0},{"n":"NANYONDO","d":725,"v":20.7},{"n":"NANYONDO","d":740,"v":21.2},{"n":"NANYONDO","d":760,"v":21.7},{"n":"NANYONDO","d":780,"v":21.9},{"n":"NANYONDO","d":800,"v":22.0},{"n":"NANYONDO","d":820,"v":22.2},{"n":"NANYONDO","d":840,"v":22.4},{"n":"NANYONDO","d":860,"v":22.2},{"n":"NANYONDO","d":880,"v":22.0},{"n":"NANYONDO","d":900,"v":22.0},{"n":"NANYONDO","d":920,"v":21.9},{"n":"NANYONDO","d":940,"v":22.0},{"n":"NANYONDO","d":960,"v":22.2},{"n":"NANYONDO","d":980,"v":22.0},{"n":"NANYONDO","d":1000,"v":22.1},{"n":"NANYONDO","d":1020,"v":22.3},{"n":"NANYONDO","d":1040,"v":22.2},{"n":"NANYONDO","d":1060,"v":22.5},{"n":"NANYONDO","d":1080,"v":22.9},{"n":"NANYONDO","d":1090,"v":23.15},{"n":"NANYONDO","d":1100,"v":22.8},{"n":"NANYONDO","d":1115,"v":22.4},{"n":"NANYONDO","d":1130,"v":22.5},{"n":"NANYONDO","d":1150,"v":22.6},{"n":"NANYONDO","d":1170,"v":22.8},{"n":"NANYONDO","d":1187,"v":22.67},{"n":"NANYONDO","d":1203,"v":22.48},{"n":"NANYONDO","d":1215,"v":22.23},{"n":"NANYONDO","d":1226,"v":22.7},{"n":"NANYONDO","d":1238,"v":23.23},{"n":"NANYONDO","d":1246,"v":23.45},{"n":"NANYONDO","d":1258,"v":23.36},{"n":"NANYONDO","d":1270,"v":23.3},{"n":"NANYONDO","d":1286,"v":23.1},{"n":"NANYONDO","d":1297,"v":22.92},{"n":"NANYONDO","d":1313,"v":22.67},{"n":"NANYONDO","d":1329,"v":22.6},{"n":"NANYONDO","d":1345,"v":22.48},{"n":"NANYONDO","d":1361,"v":22.23},{"n":"NANYONDO","d":1376,"v":21.98},{"n":"NANYONDO","d":1396,"v":21.79},{"n":"NANYONDO","d":1416,"v":21.73},{"n":"NANYONDO","d":1432,"v":21.35},{"n":"NANYONDO","d":1443,"v":20.98},{"n":"NANYONDO","d":1455,"v":20.6},{"n":"NANYONDO","d":1467,"v":20.42},{"n":"NANYONDO","d":1479,"v":20.42},{"n":"NANYONDO","d":1491,"v":20.29},{"n":"NANYONDO","d":1499,"v":19.66},{"n":"NANYONDO","d":1503,"v":19.3},
      {"n":"JEBITOK","d":8,"v":21.5},{"n":"JEBITOK","d":14,"v":23.5},{"n":"JEBITOK","d":20,"v":24.5},{"n":"JEBITOK","d":27,"v":25.2},{"n":"JEBITOK","d":33,"v":25.55},{"n":"JEBITOK","d":41,"v":25.67},{"n":"JEBITOK","d":49,"v":25.8},{"n":"JEBITOK","d":58,"v":25.67},{"n":"JEBITOK","d":68,"v":25.36},{"n":"JEBITOK","d":74,"v":25.11},{"n":"JEBITOK","d":80,"v":25.11},{"n":"JEBITOK","d":86,"v":25.17},{"n":"JEBITOK","d":92,"v":24.98},{"n":"JEBITOK","d":96,"v":24.48},{"n":"JEBITOK","d":102,"v":23.86},{"n":"JEBITOK","d":108,"v":23.23},{"n":"JEBITOK","d":112,"v":22.73},{"n":"JEBITOK","d":120,"v":21.8},{"n":"JEBITOK","d":128,"v":21.1},{"n":"JEBITOK","d":136,"v":20.9},{"n":"JEBITOK","d":145,"v":21.6},{"n":"JEBITOK","d":155,"v":22.3},{"n":"JEBITOK","d":165,"v":22.4},{"n":"JEBITOK","d":180,"v":22.1},{"n":"JEBITOK","d":195,"v":22.3},{"n":"JEBITOK","d":210,"v":22.0},{"n":"JEBITOK","d":230,"v":21.8},{"n":"JEBITOK","d":250,"v":22.2},{"n":"JEBITOK","d":270,"v":22.4},{"n":"JEBITOK","d":290,"v":22.6},{"n":"JEBITOK","d":310,"v":22.2},{"n":"JEBITOK","d":330,"v":21.9},{"n":"JEBITOK","d":345,"v":21.7},{"n":"JEBITOK","d":360,"v":22.0},{"n":"JEBITOK","d":370,"v":21.5},{"n":"JEBITOK","d":380,"v":22.2},{"n":"JEBITOK","d":388,"v":22.7},{"n":"JEBITOK","d":396,"v":22.3},{"n":"JEBITOK","d":405,"v":21.3},{"n":"JEBITOK","d":415,"v":20.9},{"n":"JEBITOK","d":430,"v":21.5},{"n":"JEBITOK","d":445,"v":22.3},{"n":"JEBITOK","d":460,"v":22.5},{"n":"JEBITOK","d":475,"v":22.7},{"n":"JEBITOK","d":490,"v":22.5},{"n":"JEBITOK","d":510,"v":22.3},{"n":"JEBITOK","d":530,"v":22.5},{"n":"JEBITOK","d":545,"v":22.6},{"n":"JEBITOK","d":560,"v":22.3},{"n":"JEBITOK","d":580,"v":22.0},{"n":"JEBITOK","d":600,"v":21.8},{"n":"JEBITOK","d":620,"v":22.3},{"n":"JEBITOK","d":635,"v":22.6},{"n":"JEBITOK","d":650,"v":22.7},{"n":"JEBITOK","d":665,"v":22.6},{"n":"JEBITOK","d":680,"v":22.4},{"n":"JEBITOK","d":700,"v":21.5},{"n":"JEBITOK","d":712,"v":20.7},{"n":"JEBITOK","d":725,"v":21.0},{"n":"JEBITOK","d":740,"v":21.4},{"n":"JEBITOK","d":760,"v":21.8},{"n":"JEBITOK","d":780,"v":22.0},{"n":"JEBITOK","d":800,"v":22.2},{"n":"JEBITOK","d":820,"v":22.1},{"n":"JEBITOK","d":840,"v":22.0},{"n":"JEBITOK","d":860,"v":21.8},{"n":"JEBITOK","d":880,"v":21.5},{"n":"JEBITOK","d":895,"v":21.2},{"n":"JEBITOK","d":905,"v":21.1},{"n":"JEBITOK","d":915,"v":21.3},{"n":"JEBITOK","d":930,"v":22.1},{"n":"JEBITOK","d":945,"v":22.5},{"n":"JEBITOK","d":960,"v":22.5},{"n":"JEBITOK","d":980,"v":22.3},{"n":"JEBITOK","d":1000,"v":21.9},{"n":"JEBITOK","d":1020,"v":22.0},{"n":"JEBITOK","d":1040,"v":22.1},{"n":"JEBITOK","d":1060,"v":21.9},{"n":"JEBITOK","d":1080,"v":21.9},{"n":"JEBITOK","d":1100,"v":22.0},{"n":"JEBITOK","d":1120,"v":22.3},{"n":"JEBITOK","d":1140,"v":22.4},{"n":"JEBITOK","d":1160,"v":22.5},{"n":"JEBITOK","d":1187,"v":22.3},{"n":"JEBITOK","d":1203,"v":22.26},{"n":"JEBITOK","d":1219,"v":22.36},{"n":"JEBITOK","d":1234,"v":22.73},{"n":"JEBITOK","d":1246,"v":22.92},{"n":"JEBITOK","d":1258,"v":22.8},{"n":"JEBITOK","d":1270,"v":22.54},{"n":"JEBITOK","d":1282,"v":22.3},{"n":"JEBITOK","d":1290,"v":22.23},{"n":"JEBITOK","d":1297,"v":22.54},{"n":"JEBITOK","d":1310,"v":22.3},{"n":"JEBITOK","d":1330,"v":22.1},{"n":"JEBITOK","d":1350,"v":22.1},{"n":"JEBITOK","d":1364,"v":22.1},{"n":"JEBITOK","d":1375,"v":21.7},{"n":"JEBITOK","d":1384,"v":21.35},{"n":"JEBITOK","d":1400,"v":21.6},{"n":"JEBITOK","d":1416,"v":21.85},{"n":"JEBITOK","d":1432,"v":22.1},{"n":"JEBITOK","d":1447,"v":22.17},{"n":"JEBITOK","d":1459,"v":22.1},{"n":"JEBITOK","d":1467,"v":21.85},{"n":"JEBITOK","d":1475,"v":21.6},{"n":"JEBITOK","d":1487,"v":21.48},{"n":"JEBITOK","d":1497,"v":21.1},{"n":"JEBITOK","d":1503,"v":20.3},
      {"n":"VANDERELST","d":8,"v":18.0},{"n":"VANDERELST","d":12,"v":21.5},{"n":"VANDERELST","d":17,"v":24.0},{"n":"VANDERELST","d":22,"v":24.9},{"n":"VANDERELST","d":30,"v":24.6},{"n":"VANDERELST","d":40,"v":24.2},{"n":"VANDERELST","d":50,"v":24.0},{"n":"VANDERELST","d":58,"v":24.5},{"n":"VANDERELST","d":68,"v":25.0},{"n":"VANDERELST","d":76,"v":25.1},{"n":"VANDERELST","d":84,"v":24.7},{"n":"VANDERELST","d":92,"v":24.0},{"n":"VANDERELST","d":100,"v":23.0},{"n":"VANDERELST","d":110,"v":22.0},{"n":"VANDERELST","d":120,"v":21.2},{"n":"VANDERELST","d":128,"v":20.7},{"n":"VANDERELST","d":136,"v":20.7},{"n":"VANDERELST","d":146,"v":21.6},{"n":"VANDERELST","d":156,"v":22.3},{"n":"VANDERELST","d":170,"v":22.6},{"n":"VANDERELST","d":185,"v":22.4},{"n":"VANDERELST","d":200,"v":22.6},{"n":"VANDERELST","d":220,"v":22.0},{"n":"VANDERELST","d":240,"v":21.7},{"n":"VANDERELST","d":260,"v":21.8},{"n":"VANDERELST","d":280,"v":22.3},{"n":"VANDERELST","d":300,"v":22.1},{"n":"VANDERELST","d":320,"v":21.8},{"n":"VANDERELST","d":340,"v":21.9},{"n":"VANDERELST","d":360,"v":21.4},{"n":"VANDERELST","d":380,"v":21.5},{"n":"VANDERELST","d":395,"v":21.0},{"n":"VANDERELST","d":405,"v":20.7},{"n":"VANDERELST","d":420,"v":21.3},{"n":"VANDERELST","d":440,"v":22.0},{"n":"VANDERELST","d":460,"v":22.5},{"n":"VANDERELST","d":480,"v":22.3},{"n":"VANDERELST","d":492,"v":21.5},{"n":"VANDERELST","d":510,"v":22.0},{"n":"VANDERELST","d":530,"v":22.2},{"n":"VANDERELST","d":550,"v":22.2},{"n":"VANDERELST","d":570,"v":21.9},{"n":"VANDERELST","d":590,"v":21.5},{"n":"VANDERELST","d":605,"v":21.4},{"n":"VANDERELST","d":620,"v":22.2},{"n":"VANDERELST","d":640,"v":22.5},{"n":"VANDERELST","d":660,"v":22.3},{"n":"VANDERELST","d":680,"v":22.2},{"n":"VANDERELST","d":700,"v":21.6},{"n":"VANDERELST","d":715,"v":21.0},{"n":"VANDERELST","d":730,"v":21.2},{"n":"VANDERELST","d":753,"v":20.98},{"n":"VANDERELST","d":770,"v":21.6},{"n":"VANDERELST","d":790,"v":21.9},{"n":"VANDERELST","d":810,"v":22.1},{"n":"VANDERELST","d":830,"v":22.2},{"n":"VANDERELST","d":850,"v":22.3},{"n":"VANDERELST","d":870,"v":22.5},{"n":"VANDERELST","d":890,"v":22.3},{"n":"VANDERELST","d":910,"v":22.1},{"n":"VANDERELST","d":930,"v":22.1},{"n":"VANDERELST","d":950,"v":22.4},{"n":"VANDERELST","d":970,"v":22.3},{"n":"VANDERELST","d":990,"v":22.2},{"n":"VANDERELST","d":1010,"v":22.0},{"n":"VANDERELST","d":1030,"v":22.3},{"n":"VANDERELST","d":1050,"v":22.2},{"n":"VANDERELST","d":1070,"v":22.3},{"n":"VANDERELST","d":1090,"v":22.5},{"n":"VANDERELST","d":1110,"v":22.3},{"n":"VANDERELST","d":1130,"v":22.2},{"n":"VANDERELST","d":1150,"v":22.3},{"n":"VANDERELST","d":1170,"v":22.4},{"n":"VANDERELST","d":1190,"v":22.5},{"n":"VANDERELST","d":1210,"v":22.4},{"n":"VANDERELST","d":1238,"v":22.8},{"n":"VANDERELST","d":1250,"v":22.48},{"n":"VANDERELST","d":1270,"v":22.5},{"n":"VANDERELST","d":1290,"v":22.48},{"n":"VANDERELST","d":1305,"v":22.36},{"n":"VANDERELST","d":1325,"v":22.2},{"n":"VANDERELST","d":1345,"v":21.98},{"n":"VANDERELST","d":1361,"v":21.85},{"n":"VANDERELST","d":1376,"v":21.73},{"n":"VANDERELST","d":1396,"v":21.73},{"n":"VANDERELST","d":1416,"v":21.73},{"n":"VANDERELST","d":1432,"v":21.67},{"n":"VANDERELST","d":1447,"v":21.54},{"n":"VANDERELST","d":1463,"v":21.35},{"n":"VANDERELST","d":1479,"v":21.35},{"n":"VANDERELST","d":1491,"v":21.17},{"n":"VANDERELST","d":1501,"v":20.85},{"n":"VANDERELST","d":1503,"v":20.0},
      {"n":"NUTTALL","d":8,"v":21.0},{"n":"NUTTALL","d":14,"v":23.5},{"n":"NUTTALL","d":20,"v":24.3},{"n":"NUTTALL","d":27,"v":24.6},{"n":"NUTTALL","d":35,"v":24.5},{"n":"NUTTALL","d":45,"v":24.0},{"n":"NUTTALL","d":55,"v":23.6},{"n":"NUTTALL","d":62,"v":23.35},{"n":"NUTTALL","d":70,"v":22.9},{"n":"NUTTALL","d":77,"v":21.92},{"n":"NUTTALL","d":85,"v":22.5},{"n":"NUTTALL","d":95,"v":23.0},{"n":"NUTTALL","d":102,"v":22.6},{"n":"NUTTALL","d":112,"v":21.8},{"n":"NUTTALL","d":120,"v":21.3},{"n":"NUTTALL","d":130,"v":21.0},{"n":"NUTTALL","d":140,"v":21.4},{"n":"NUTTALL","d":150,"v":22.2},{"n":"NUTTALL","d":165,"v":22.4},{"n":"NUTTALL","d":180,"v":22.2},{"n":"NUTTALL","d":195,"v":22.3},{"n":"NUTTALL","d":210,"v":22.0},{"n":"NUTTALL","d":225,"v":22.3},{"n":"NUTTALL","d":240,"v":22.1},{"n":"NUTTALL","d":260,"v":21.6},{"n":"NUTTALL","d":275,"v":21.3},{"n":"NUTTALL","d":290,"v":21.7},{"n":"NUTTALL","d":310,"v":22.2},{"n":"NUTTALL","d":330,"v":22.0},{"n":"NUTTALL","d":350,"v":21.8},{"n":"NUTTALL","d":370,"v":21.6},{"n":"NUTTALL","d":390,"v":21.3},{"n":"NUTTALL","d":405,"v":21.1},{"n":"NUTTALL","d":420,"v":21.5},{"n":"NUTTALL","d":440,"v":22.0},{"n":"NUTTALL","d":460,"v":22.4},{"n":"NUTTALL","d":480,"v":22.5},{"n":"NUTTALL","d":500,"v":22.2},{"n":"NUTTALL","d":520,"v":22.4},{"n":"NUTTALL","d":540,"v":22.3},{"n":"NUTTALL","d":560,"v":22.1},{"n":"NUTTALL","d":580,"v":21.9},{"n":"NUTTALL","d":600,"v":21.7},{"n":"NUTTALL","d":620,"v":22.0},{"n":"NUTTALL","d":640,"v":22.3},{"n":"NUTTALL","d":660,"v":22.5},{"n":"NUTTALL","d":675,"v":22.6},{"n":"NUTTALL","d":684,"v":22.9},{"n":"NUTTALL","d":690,"v":23.15},{"n":"NUTTALL","d":697,"v":22.5},{"n":"NUTTALL","d":705,"v":21.5},{"n":"NUTTALL","d":715,"v":20.9},{"n":"NUTTALL","d":722,"v":21.0},{"n":"NUTTALL","d":728,"v":21.6},{"n":"NUTTALL","d":735,"v":22.0},{"n":"NUTTALL","d":745,"v":21.4},{"n":"NUTTALL","d":760,"v":21.5},{"n":"NUTTALL","d":780,"v":21.8},{"n":"NUTTALL","d":800,"v":22.0},{"n":"NUTTALL","d":820,"v":22.1},{"n":"NUTTALL","d":840,"v":22.2},{"n":"NUTTALL","d":860,"v":22.3},{"n":"NUTTALL","d":880,"v":22.1},{"n":"NUTTALL","d":900,"v":21.9},{"n":"NUTTALL","d":920,"v":21.7},{"n":"NUTTALL","d":940,"v":21.8},{"n":"NUTTALL","d":960,"v":21.8},{"n":"NUTTALL","d":980,"v":21.7},{"n":"NUTTALL","d":1000,"v":21.6},{"n":"NUTTALL","d":1020,"v":21.9},{"n":"NUTTALL","d":1040,"v":22.1},{"n":"NUTTALL","d":1060,"v":22.2},{"n":"NUTTALL","d":1080,"v":22.4},{"n":"NUTTALL","d":1095,"v":22.3},{"n":"NUTTALL","d":1105,"v":21.9},{"n":"NUTTALL","d":1115,"v":21.0},{"n":"NUTTALL","d":1124,"v":20.2},{"n":"NUTTALL","d":1130,"v":20.05},{"n":"NUTTALL","d":1137,"v":20.6},{"n":"NUTTALL","d":1144,"v":21.6},{"n":"NUTTALL","d":1152,"v":22.4},{"n":"NUTTALL","d":1167,"v":22.67},{"n":"NUTTALL","d":1183,"v":22.36},{"n":"NUTTALL","d":1199,"v":22.17},{"n":"NUTTALL","d":1211,"v":21.98},{"n":"NUTTALL","d":1222,"v":22.36},{"n":"NUTTALL","d":1238,"v":22.67},{"n":"NUTTALL","d":1250,"v":22.54},{"n":"NUTTALL","d":1266,"v":22.67},{"n":"NUTTALL","d":1282,"v":22.73},{"n":"NUTTALL","d":1297,"v":22.8},{"n":"NUTTALL","d":1305,"v":22.6},{"n":"NUTTALL","d":1317,"v":22.36},{"n":"NUTTALL","d":1333,"v":22.73},{"n":"NUTTALL","d":1345,"v":22.67},{"n":"NUTTALL","d":1357,"v":22.36},{"n":"NUTTALL","d":1372,"v":22.23},{"n":"NUTTALL","d":1388,"v":22.1},{"n":"NUTTALL","d":1404,"v":22.04},{"n":"NUTTALL","d":1420,"v":22.04},{"n":"NUTTALL","d":1432,"v":21.85},{"n":"NUTTALL","d":1447,"v":21.98},{"n":"NUTTALL","d":1463,"v":21.92},{"n":"NUTTALL","d":1479,"v":22.04},{"n":"NUTTALL","d":1491,"v":22.1},{"n":"NUTTALL","d":1503,"v":21.3},
      {"n":"GUILLEMOT","d":8,"v":21.0},{"n":"GUILLEMOT","d":14,"v":23.5},{"n":"GUILLEMOT","d":20,"v":24.9},{"n":"GUILLEMOT","d":28,"v":24.4},{"n":"GUILLEMOT","d":38,"v":23.6},{"n":"GUILLEMOT","d":48,"v":23.1},{"n":"GUILLEMOT","d":58,"v":22.95},{"n":"GUILLEMOT","d":70,"v":22.8},{"n":"GUILLEMOT","d":82,"v":22.95},{"n":"GUILLEMOT","d":92,"v":23.0},{"n":"GUILLEMOT","d":100,"v":22.6},{"n":"GUILLEMOT","d":110,"v":21.9},{"n":"GUILLEMOT","d":120,"v":21.3},{"n":"GUILLEMOT","d":130,"v":20.9},{"n":"GUILLEMOT","d":140,"v":21.2},{"n":"GUILLEMOT","d":150,"v":21.9},{"n":"GUILLEMOT","d":165,"v":22.3},{"n":"GUILLEMOT","d":180,"v":22.1},{"n":"GUILLEMOT","d":195,"v":22.2},{"n":"GUILLEMOT","d":210,"v":22.0},{"n":"GUILLEMOT","d":230,"v":21.7},{"n":"GUILLEMOT","d":250,"v":21.9},{"n":"GUILLEMOT","d":270,"v":22.0},{"n":"GUILLEMOT","d":290,"v":21.8},{"n":"GUILLEMOT","d":310,"v":21.6},{"n":"GUILLEMOT","d":330,"v":21.8},{"n":"GUILLEMOT","d":350,"v":21.9},{"n":"GUILLEMOT","d":370,"v":21.7},{"n":"GUILLEMOT","d":390,"v":21.5},{"n":"GUILLEMOT","d":410,"v":21.3},{"n":"GUILLEMOT","d":430,"v":21.6},{"n":"GUILLEMOT","d":450,"v":22.0},{"n":"GUILLEMOT","d":470,"v":22.2},{"n":"GUILLEMOT","d":490,"v":21.8},{"n":"GUILLEMOT","d":510,"v":22.1},{"n":"GUILLEMOT","d":530,"v":22.3},{"n":"GUILLEMOT","d":550,"v":22.2},{"n":"GUILLEMOT","d":570,"v":22.0},{"n":"GUILLEMOT","d":590,"v":21.6},{"n":"GUILLEMOT","d":605,"v":21.5},{"n":"GUILLEMOT","d":620,"v":22.1},{"n":"GUILLEMOT","d":640,"v":22.2},{"n":"GUILLEMOT","d":660,"v":22.3},{"n":"GUILLEMOT","d":680,"v":22.4},{"n":"GUILLEMOT","d":695,"v":22.2},{"n":"GUILLEMOT","d":710,"v":22.1},{"n":"GUILLEMOT","d":721,"v":22.29},{"n":"GUILLEMOT","d":730,"v":21.7},{"n":"GUILLEMOT","d":745,"v":21.2},{"n":"GUILLEMOT","d":760,"v":21.5},{"n":"GUILLEMOT","d":780,"v":21.8},{"n":"GUILLEMOT","d":800,"v":22.0},{"n":"GUILLEMOT","d":820,"v":22.1},{"n":"GUILLEMOT","d":840,"v":22.0},{"n":"GUILLEMOT","d":860,"v":22.1},{"n":"GUILLEMOT","d":880,"v":22.0},{"n":"GUILLEMOT","d":900,"v":21.9},{"n":"GUILLEMOT","d":920,"v":21.8},{"n":"GUILLEMOT","d":940,"v":21.8},{"n":"GUILLEMOT","d":960,"v":21.9},{"n":"GUILLEMOT","d":980,"v":22.0},{"n":"GUILLEMOT","d":1000,"v":22.0},{"n":"GUILLEMOT","d":1020,"v":22.2},{"n":"GUILLEMOT","d":1040,"v":22.3},{"n":"GUILLEMOT","d":1060,"v":22.1},{"n":"GUILLEMOT","d":1080,"v":22.2},{"n":"GUILLEMOT","d":1100,"v":22.0},{"n":"GUILLEMOT","d":1120,"v":21.9},{"n":"GUILLEMOT","d":1140,"v":21.8},{"n":"GUILLEMOT","d":1160,"v":21.9},{"n":"GUILLEMOT","d":1187,"v":21.98},{"n":"GUILLEMOT","d":1203,"v":21.92},{"n":"GUILLEMOT","d":1219,"v":21.92},{"n":"GUILLEMOT","d":1234,"v":21.98},{"n":"GUILLEMOT","d":1242,"v":22.07},{"n":"GUILLEMOT","d":1258,"v":21.98},{"n":"GUILLEMOT","d":1274,"v":21.92},{"n":"GUILLEMOT","d":1290,"v":22.01},{"n":"GUILLEMOT","d":1305,"v":22.04},{"n":"GUILLEMOT","d":1321,"v":22.17},{"n":"GUILLEMOT","d":1337,"v":22.04},{"n":"GUILLEMOT","d":1353,"v":21.85},{"n":"GUILLEMOT","d":1368,"v":21.35},{"n":"GUILLEMOT","d":1384,"v":21.73},{"n":"GUILLEMOT","d":1400,"v":22.1},{"n":"GUILLEMOT","d":1424,"v":22.54},{"n":"GUILLEMOT","d":1439,"v":22.6},{"n":"GUILLEMOT","d":1451,"v":22.73},{"n":"GUILLEMOT","d":1463,"v":22.67},{"n":"GUILLEMOT","d":1475,"v":22.48},{"n":"GUILLEMOT","d":1487,"v":22.42},{"n":"GUILLEMOT","d":1499,"v":22.23},{"n":"GUILLEMOT","d":1503,"v":21.0},
      {"n":"MEGGER","d":8,"v":21.0},{"n":"MEGGER","d":14,"v":23.5},{"n":"MEGGER","d":20,"v":24.8},{"n":"MEGGER","d":27,"v":25.35},{"n":"MEGGER","d":37,"v":24.8},{"n":"MEGGER","d":45,"v":24.23},{"n":"MEGGER","d":52,"v":23.86},{"n":"MEGGER","d":58,"v":23.76},{"n":"MEGGER","d":66,"v":23.92},{"n":"MEGGER","d":76,"v":24.3},{"n":"MEGGER","d":84,"v":24.1},{"n":"MEGGER","d":92,"v":23.4},{"n":"MEGGER","d":100,"v":22.6},{"n":"MEGGER","d":110,"v":21.8},{"n":"MEGGER","d":120,"v":21.2},{"n":"MEGGER","d":128,"v":20.9},{"n":"MEGGER","d":136,"v":20.8},{"n":"MEGGER","d":146,"v":21.6},{"n":"MEGGER","d":156,"v":22.2},{"n":"MEGGER","d":170,"v":22.5},{"n":"MEGGER","d":185,"v":22.2},{"n":"MEGGER","d":200,"v":22.5},{"n":"MEGGER","d":215,"v":22.1},{"n":"MEGGER","d":230,"v":21.8},{"n":"MEGGER","d":250,"v":22.0},{"n":"MEGGER","d":270,"v":22.2},{"n":"MEGGER","d":290,"v":22.0},{"n":"MEGGER","d":310,"v":21.8},{"n":"MEGGER","d":330,"v":21.5},{"n":"MEGGER","d":350,"v":21.6},{"n":"MEGGER","d":370,"v":21.4},{"n":"MEGGER","d":390,"v":21.2},{"n":"MEGGER","d":405,"v":20.9},{"n":"MEGGER","d":415,"v":21.1},{"n":"MEGGER","d":430,"v":21.4},{"n":"MEGGER","d":445,"v":21.8},{"n":"MEGGER","d":460,"v":22.0},{"n":"MEGGER","d":470,"v":22.5},{"n":"MEGGER","d":477,"v":23.2},{"n":"MEGGER","d":485,"v":23.4},{"n":"MEGGER","d":490,"v":23.6},{"n":"MEGGER","d":495,"v":23.83},{"n":"MEGGER","d":500,"v":23.4},{"n":"MEGGER","d":505,"v":22.4},{"n":"MEGGER","d":512,"v":21.9},{"n":"MEGGER","d":525,"v":21.7},{"n":"MEGGER","d":540,"v":21.8},{"n":"MEGGER","d":560,"v":22.1},{"n":"MEGGER","d":580,"v":21.8},{"n":"MEGGER","d":595,"v":21.04},{"n":"MEGGER","d":607,"v":21.04},{"n":"MEGGER","d":619,"v":21.42},{"n":"MEGGER","d":629,"v":21.17},{"n":"MEGGER","d":643,"v":21.6},{"n":"MEGGER","d":654,"v":21.67},{"n":"MEGGER","d":666,"v":21.86},{"n":"MEGGER","d":678,"v":22.23},{"n":"MEGGER","d":690,"v":22.42},{"n":"MEGGER","d":702,"v":22.17},{"n":"MEGGER","d":714,"v":21.73},{"n":"MEGGER","d":726,"v":21.54},{"n":"MEGGER","d":737,"v":21.48},{"n":"MEGGER","d":753,"v":21.48},{"n":"MEGGER","d":765,"v":21.54},{"n":"MEGGER","d":781,"v":21.73},{"n":"MEGGER","d":796,"v":21.92},{"n":"MEGGER","d":816,"v":22.17},{"n":"MEGGER","d":832,"v":22.36},{"n":"MEGGER","d":848,"v":22.51},{"n":"MEGGER","d":864,"v":22.29},{"n":"MEGGER","d":879,"v":22.39},{"n":"MEGGER","d":895,"v":22.23},{"n":"MEGGER","d":911,"v":22.04},{"n":"MEGGER","d":927,"v":21.9},{"n":"MEGGER","d":938,"v":21.79},{"n":"MEGGER","d":962,"v":21.79},{"n":"MEGGER","d":982,"v":21.92},{"n":"MEGGER","d":994,"v":21.79},{"n":"MEGGER","d":1010,"v":21.92},{"n":"MEGGER","d":1025,"v":21.73},{"n":"MEGGER","d":1041,"v":21.85},{"n":"MEGGER","d":1057,"v":21.92},{"n":"MEGGER","d":1073,"v":22.04},{"n":"MEGGER","d":1088,"v":22.1},{"n":"MEGGER","d":1100,"v":22.04},{"n":"MEGGER","d":1108,"v":21.67},{"n":"MEGGER","d":1120,"v":21.1},{"n":"MEGGER","d":1130,"v":20.79},{"n":"MEGGER","d":1140,"v":21.1},{"n":"MEGGER","d":1151,"v":21.42},{"n":"MEGGER","d":1167,"v":21.48},{"n":"MEGGER","d":1183,"v":21.5},{"n":"MEGGER","d":1193,"v":21.2},{"n":"MEGGER","d":1203,"v":20.75},{"n":"MEGGER","d":1210,"v":21.0},{"n":"MEGGER","d":1218,"v":21.8},{"n":"MEGGER","d":1225,"v":22.2},{"n":"MEGGER","d":1238,"v":22.42},{"n":"MEGGER","d":1254,"v":22.48},{"n":"MEGGER","d":1270,"v":22.6},{"n":"MEGGER","d":1286,"v":22.73},{"n":"MEGGER","d":1301,"v":22.54},{"n":"MEGGER","d":1317,"v":22.6},{"n":"MEGGER","d":1333,"v":22.48},{"n":"MEGGER","d":1345,"v":22.36},{"n":"MEGGER","d":1357,"v":22.6},{"n":"MEGGER","d":1368,"v":21.85},{"n":"MEGGER","d":1380,"v":21.6},{"n":"MEGGER","d":1392,"v":21.54},{"n":"MEGGER","d":1404,"v":21.42},{"n":"MEGGER","d":1412,"v":21.6},{"n":"MEGGER","d":1420,"v":22.17},{"n":"MEGGER","d":1432,"v":22.42},{"n":"MEGGER","d":1447,"v":22.48},{"n":"MEGGER","d":1463,"v":22.36},{"n":"MEGGER","d":1479,"v":22.23},{"n":"MEGGER","d":1491,"v":22.1},{"n":"MEGGER","d":1501,"v":21.1},{"n":"MEGGER","d":1503,"v":20.5},
      {"n":"McDONALD","d":8,"v":20.0},{"n":"McDONALD","d":12,"v":23.5},{"n":"McDONALD","d":15,"v":26.2},{"n":"McDONALD","d":21,"v":27.1},{"n":"McDONALD","d":27,"v":27.49},{"n":"McDONALD","d":35,"v":27.56},{"n":"McDONALD","d":43,"v":27.36},{"n":"McDONALD","d":51,"v":27.05},{"n":"McDONALD","d":60,"v":26.49},{"n":"McDONALD","d":68,"v":26.05},{"n":"McDONALD","d":76,"v":25.36},{"n":"McDONALD","d":84,"v":24.55},{"n":"McDONALD","d":90,"v":23.92},{"n":"McDONALD","d":96,"v":23.48},{"n":"McDONALD","d":104,"v":22.98},{"n":"McDONALD","d":110,"v":22.67},{"n":"McDONALD","d":120,"v":22.0},{"n":"McDONALD","d":130,"v":21.75},{"n":"McDONALD","d":140,"v":21.9},{"n":"McDONALD","d":153,"v":21.8},{"n":"McDONALD","d":165,"v":22.1},{"n":"McDONALD","d":180,"v":22.3},{"n":"McDONALD","d":195,"v":21.9},{"n":"McDONALD","d":209,"v":21.2},{"n":"McDONALD","d":216,"v":21.2},{"n":"McDONALD","d":230,"v":21.6},{"n":"McDONALD","d":245,"v":22.3},{"n":"McDONALD","d":256,"v":23.1},{"n":"McDONALD","d":264,"v":22.95},{"n":"McDONALD","d":276,"v":23.23},{"n":"McDONALD","d":291,"v":23.04},{"n":"McDONALD","d":299,"v":22.67},{"n":"McDONALD","d":315,"v":22.73},{"n":"McDONALD","d":327,"v":22.48},{"n":"McDONALD","d":339,"v":22.17},{"n":"McDONALD","d":355,"v":21.8},{"n":"McDONALD","d":374,"v":21.6},{"n":"McDONALD","d":394,"v":21.48},{"n":"McDONALD","d":406,"v":21.92},{"n":"McDONALD","d":422,"v":22.23},{"n":"McDONALD","d":437,"v":22.54},{"n":"McDONALD","d":449,"v":22.42},{"n":"McDONALD","d":465,"v":22.54},{"n":"McDONALD","d":481,"v":22.67},{"n":"McDONALD","d":497,"v":22.6},{"n":"McDONALD","d":512,"v":22.48},{"n":"McDONALD","d":528,"v":22.48},{"n":"McDONALD","d":548,"v":22.29},{"n":"McDONALD","d":564,"v":22.04},{"n":"McDONALD","d":583,"v":21.86},{"n":"McDONALD","d":595,"v":21.4},{"n":"McDONALD","d":607,"v":21.73},{"n":"McDONALD","d":619,"v":22.54},{"n":"McDONALD","d":631,"v":22.86},{"n":"McDONALD","d":639,"v":22.73},{"n":"McDONALD","d":651,"v":22.48},{"n":"McDONALD","d":666,"v":22.36},{"n":"McDONALD","d":682,"v":22.23},{"n":"McDONALD","d":694,"v":21.92},{"n":"McDONALD","d":702,"v":21.48},{"n":"McDONALD","d":710,"v":21.1},{"n":"McDONALD","d":718,"v":20.98},{"n":"McDONALD","d":729,"v":21.17},{"n":"McDONALD","d":745,"v":21.48},{"n":"McDONALD","d":761,"v":21.54},{"n":"McDONALD","d":777,"v":21.79},{"n":"McDONALD","d":793,"v":21.92},{"n":"McDONALD","d":808,"v":21.9},{"n":"McDONALD","d":824,"v":21.67},{"n":"McDONALD","d":840,"v":21.48},{"n":"McDONALD","d":856,"v":21.23},{"n":"McDONALD","d":871,"v":21.29},{"n":"McDONALD","d":887,"v":21.23},{"n":"McDONALD","d":903,"v":21.35},{"n":"McDONALD","d":911,"v":20.92},{"n":"McDONALD","d":922,"v":20.98},{"n":"McDONALD","d":935,"v":20.67},{"n":"McDONALD","d":942,"v":21.17},{"n":"McDONALD","d":946,"v":21.73},{"n":"McDONALD","d":958,"v":21.92},{"n":"McDONALD","d":974,"v":21.98},{"n":"McDONALD","d":986,"v":21.85},{"n":"McDONALD","d":1006,"v":21.35},{"n":"McDONALD","d":1017,"v":21.73},{"n":"McDONALD","d":1033,"v":21.79},{"n":"McDONALD","d":1049,"v":21.67},{"n":"McDONALD","d":1065,"v":21.6},{"n":"McDONALD","d":1080,"v":21.7},{"n":"McDONALD","d":1096,"v":21.92},{"n":"McDONALD","d":1112,"v":21.42},{"n":"McDONALD","d":1128,"v":21.85},{"n":"McDONALD","d":1144,"v":21.98},{"n":"McDONALD","d":1159,"v":21.92},{"n":"McDONALD","d":1175,"v":21.92},{"n":"McDONALD","d":1191,"v":21.98},{"n":"McDONALD","d":1203,"v":21.79},{"n":"McDONALD","d":1219,"v":21.82},{"n":"McDONALD","d":1234,"v":21.79},{"n":"McDONALD","d":1246,"v":21.48},{"n":"McDONALD","d":1258,"v":21.29},{"n":"McDONALD","d":1270,"v":21.48},{"n":"McDONALD","d":1282,"v":21.6},{"n":"McDONALD","d":1297,"v":21.54},{"n":"McDONALD","d":1313,"v":21.48},{"n":"McDONALD","d":1325,"v":21.29},{"n":"McDONALD","d":1341,"v":21.17},{"n":"McDONALD","d":1357,"v":21.04},{"n":"McDONALD","d":1368,"v":20.85},{"n":"McDONALD","d":1380,"v":21.04},{"n":"McDONALD","d":1396,"v":21.29},{"n":"McDONALD","d":1408,"v":21.23},{"n":"McDONALD","d":1424,"v":21.17},{"n":"McDONALD","d":1439,"v":21.04},{"n":"McDONALD","d":1455,"v":20.92},{"n":"McDONALD","d":1471,"v":20.85},{"n":"McDONALD","d":1487,"v":20.79},{"n":"McDONALD","d":1499,"v":20.35},{"n":"McDONALD","d":1503,"v":19.6},
      {"n":"ALEMSHET","d":8,"v":20.5},{"n":"ALEMSHET","d":13,"v":23.5},{"n":"ALEMSHET","d":17,"v":24.48},{"n":"ALEMSHET","d":19,"v":24.64},{"n":"ALEMSHET","d":29,"v":24.04},{"n":"ALEMSHET","d":37,"v":23.36},{"n":"ALEMSHET","d":41,"v":22.92},{"n":"ALEMSHET","d":47,"v":22.3},{"n":"ALEMSHET","d":53,"v":22.04},{"n":"ALEMSHET","d":60,"v":22.3},{"n":"ALEMSHET","d":67,"v":22.92},{"n":"ALEMSHET","d":75,"v":23.9},{"n":"ALEMSHET","d":80,"v":24.48},{"n":"ALEMSHET","d":86,"v":24.58},{"n":"ALEMSHET","d":94,"v":24.36},{"n":"ALEMSHET","d":100,"v":23.86},{"n":"ALEMSHET","d":108,"v":22.98},{"n":"ALEMSHET","d":118,"v":21.8},{"n":"ALEMSHET","d":128,"v":21.0},{"n":"ALEMSHET","d":138,"v":20.67},{"n":"ALEMSHET","d":146,"v":21.5},{"n":"ALEMSHET","d":153,"v":22.3},{"n":"ALEMSHET","d":161,"v":22.86},{"n":"ALEMSHET","d":173,"v":22.98},{"n":"ALEMSHET","d":185,"v":22.98},{"n":"ALEMSHET","d":195,"v":23.54},{"n":"ALEMSHET","d":201,"v":23.5},{"n":"ALEMSHET","d":209,"v":23.17},{"n":"ALEMSHET","d":219,"v":24.17},{"n":"ALEMSHET","d":224,"v":24.33},{"n":"ALEMSHET","d":236,"v":24.17},{"n":"ALEMSHET","d":248,"v":24.23},{"n":"ALEMSHET","d":260,"v":23.54},{"n":"ALEMSHET","d":272,"v":22.98},{"n":"ALEMSHET","d":284,"v":22.92},{"n":"ALEMSHET","d":291,"v":22.98},{"n":"ALEMSHET","d":307,"v":22.29},{"n":"ALEMSHET","d":327,"v":21.92},{"n":"ALEMSHET","d":345,"v":21.54},{"n":"ALEMSHET","d":362,"v":20.79},{"n":"ALEMSHET","d":374,"v":21.35},{"n":"ALEMSHET","d":390,"v":21.32},{"n":"ALEMSHET","d":408,"v":21.07},{"n":"ALEMSHET","d":426,"v":21.29},{"n":"ALEMSHET","d":441,"v":21.73},{"n":"ALEMSHET","d":455,"v":22.36},{"n":"ALEMSHET","d":465,"v":22.76},{"n":"ALEMSHET","d":477,"v":22.6},{"n":"ALEMSHET","d":489,"v":22.04},{"n":"ALEMSHET","d":500,"v":21.48},{"n":"ALEMSHET","d":508,"v":21.39},{"n":"ALEMSHET","d":520,"v":21.92},{"n":"ALEMSHET","d":532,"v":22.29},{"n":"ALEMSHET","d":552,"v":22.32},{"n":"ALEMSHET","d":568,"v":22.29},{"n":"ALEMSHET","d":583,"v":21.86},{"n":"ALEMSHET","d":595,"v":21.35},{"n":"ALEMSHET","d":605,"v":21.04},{"n":"ALEMSHET","d":615,"v":21.48},{"n":"ALEMSHET","d":623,"v":22.1},{"n":"ALEMSHET","d":631,"v":22.36},{"n":"ALEMSHET","d":643,"v":22.67},{"n":"ALEMSHET","d":658,"v":22.58},{"n":"ALEMSHET","d":674,"v":22.58},{"n":"ALEMSHET","d":686,"v":22.6},{"n":"ALEMSHET","d":696,"v":22.29},{"n":"ALEMSHET","d":706,"v":21.6},{"n":"ALEMSHET","d":718,"v":20.98},{"n":"ALEMSHET","d":727,"v":20.51},{"n":"ALEMSHET","d":735,"v":21.04},{"n":"ALEMSHET","d":747,"v":21.48},{"n":"ALEMSHET","d":761,"v":21.35},{"n":"ALEMSHET","d":777,"v":21.79},{"n":"ALEMSHET","d":793,"v":21.86},{"n":"ALEMSHET","d":816,"v":21.83},{"n":"ALEMSHET","d":832,"v":21.98},{"n":"ALEMSHET","d":848,"v":22.04},{"n":"ALEMSHET","d":864,"v":22.1},{"n":"ALEMSHET","d":879,"v":21.86},{"n":"ALEMSHET","d":895,"v":21.83},{"n":"ALEMSHET","d":911,"v":21.79},{"n":"ALEMSHET","d":923,"v":22.06},{"n":"ALEMSHET","d":938,"v":21.42},{"n":"ALEMSHET","d":954,"v":22.11},{"n":"ALEMSHET","d":970,"v":21.67},{"n":"ALEMSHET","d":990,"v":21.54},{"n":"ALEMSHET","d":1010,"v":20.98},{"n":"ALEMSHET","d":1023,"v":21.6},{"n":"ALEMSHET","d":1037,"v":21.35},{"n":"ALEMSHET","d":1051,"v":21.17},{"n":"ALEMSHET","d":1063,"v":21.35},{"n":"ALEMSHET","d":1077,"v":21.42},{"n":"ALEMSHET","d":1088,"v":21.6},{"n":"ALEMSHET","d":1100,"v":21.17},{"n":"ALEMSHET","d":1108,"v":20.92},{"n":"ALEMSHET","d":1124,"v":20.95},{"n":"ALEMSHET","d":1136,"v":21.29},{"n":"ALEMSHET","d":1151,"v":21.42},{"n":"ALEMSHET","d":1163,"v":21.38},{"n":"ALEMSHET","d":1187,"v":21.1},{"n":"ALEMSHET","d":1203,"v":20.85},{"n":"ALEMSHET","d":1215,"v":20.7},{"n":"ALEMSHET","d":1226,"v":20.85},{"n":"ALEMSHET","d":1238,"v":21.14},{"n":"ALEMSHET","d":1250,"v":21.17},{"n":"ALEMSHET","d":1262,"v":21.04},{"n":"ALEMSHET","d":1270,"v":21.14},{"n":"ALEMSHET","d":1282,"v":20.92},{"n":"ALEMSHET","d":1293,"v":20.54},{"n":"ALEMSHET","d":1313,"v":20.17},{"n":"ALEMSHET","d":1325,"v":20.29},{"n":"ALEMSHET","d":1341,"v":19.98},{"n":"ALEMSHET","d":1353,"v":19.85},{"n":"ALEMSHET","d":1365,"v":19.73},{"n":"ALEMSHET","d":1376,"v":19.73},{"n":"ALEMSHET","d":1388,"v":19.63},{"n":"ALEMSHET","d":1400,"v":19.85},{"n":"ALEMSHET","d":1408,"v":20.17},{"n":"ALEMSHET","d":1420,"v":20.48},{"n":"ALEMSHET","d":1432,"v":20.42},{"n":"ALEMSHET","d":1443,"v":20.67},{"n":"ALEMSHET","d":1455,"v":20.95},{"n":"ALEMSHET","d":1467,"v":20.85},{"n":"ALEMSHET","d":1477,"v":20.92},{"n":"ALEMSHET","d":1487,"v":20.67},{"n":"ALEMSHET","d":1495,"v":19.92},{"n":"ALEMSHET","d":1503,"v":17.3},
      {"n":"PRAUGHT-LEER","d":8,"v":20.0},{"n":"PRAUGHT-LEER","d":14,"v":23.0},{"n":"PRAUGHT-LEER","d":20,"v":24.5},{"n":"PRAUGHT-LEER","d":25,"v":24.92},{"n":"PRAUGHT-LEER","d":37,"v":24.48},{"n":"PRAUGHT-LEER","d":45,"v":23.86},{"n":"PRAUGHT-LEER","d":52,"v":23.42},{"n":"PRAUGHT-LEER","d":60,"v":23.17},{"n":"PRAUGHT-LEER","d":68,"v":23.04},{"n":"PRAUGHT-LEER","d":80,"v":22.6},{"n":"PRAUGHT-LEER","d":90,"v":22.3},{"n":"PRAUGHT-LEER","d":100,"v":22.5},{"n":"PRAUGHT-LEER","d":110,"v":22.98},{"n":"PRAUGHT-LEER","d":116,"v":23.17},{"n":"PRAUGHT-LEER","d":122,"v":22.92},{"n":"PRAUGHT-LEER","d":130,"v":21.67},{"n":"PRAUGHT-LEER","d":138,"v":21.17},{"n":"PRAUGHT-LEER","d":146,"v":21.67},{"n":"PRAUGHT-LEER","d":157,"v":22.23},{"n":"PRAUGHT-LEER","d":169,"v":22.17},{"n":"PRAUGHT-LEER","d":181,"v":22.3},{"n":"PRAUGHT-LEER","d":193,"v":22.98},{"n":"PRAUGHT-LEER","d":201,"v":22.73},{"n":"PRAUGHT-LEER","d":209,"v":22.48},{"n":"PRAUGHT-LEER","d":219,"v":22.67},{"n":"PRAUGHT-LEER","d":228,"v":22.3},{"n":"PRAUGHT-LEER","d":240,"v":21.67},{"n":"PRAUGHT-LEER","d":248,"v":21.98},{"n":"PRAUGHT-LEER","d":260,"v":22.3},{"n":"PRAUGHT-LEER","d":272,"v":22.42},{"n":"PRAUGHT-LEER","d":284,"v":21.42},{"n":"PRAUGHT-LEER","d":299,"v":21.54},{"n":"PRAUGHT-LEER","d":315,"v":21.79},{"n":"PRAUGHT-LEER","d":331,"v":21.54},{"n":"PRAUGHT-LEER","d":347,"v":22.36},{"n":"PRAUGHT-LEER","d":358,"v":21.79},{"n":"PRAUGHT-LEER","d":374,"v":22.04},{"n":"PRAUGHT-LEER","d":390,"v":21.67},{"n":"PRAUGHT-LEER","d":406,"v":21.29},{"n":"PRAUGHT-LEER","d":422,"v":21.73},{"n":"PRAUGHT-LEER","d":434,"v":22.04},{"n":"PRAUGHT-LEER","d":449,"v":21.79},{"n":"PRAUGHT-LEER","d":461,"v":21.1},{"n":"PRAUGHT-LEER","d":473,"v":22.29},{"n":"PRAUGHT-LEER","d":485,"v":22.79},{"n":"PRAUGHT-LEER","d":497,"v":22.48},{"n":"PRAUGHT-LEER","d":512,"v":22.23},{"n":"PRAUGHT-LEER","d":532,"v":22.04},{"n":"PRAUGHT-LEER","d":552,"v":21.86},{"n":"PRAUGHT-LEER","d":572,"v":21.73},{"n":"PRAUGHT-LEER","d":591,"v":21.79},{"n":"PRAUGHT-LEER","d":607,"v":21.67},{"n":"PRAUGHT-LEER","d":615,"v":22.1},{"n":"PRAUGHT-LEER","d":631,"v":22.04},{"n":"PRAUGHT-LEER","d":651,"v":21.79},{"n":"PRAUGHT-LEER","d":674,"v":21.86},{"n":"PRAUGHT-LEER","d":694,"v":21.92},{"n":"PRAUGHT-LEER","d":710,"v":21.98},{"n":"PRAUGHT-LEER","d":722,"v":21.6},{"n":"PRAUGHT-LEER","d":731,"v":21.17},{"n":"PRAUGHT-LEER","d":745,"v":21.73},{"n":"PRAUGHT-LEER","d":757,"v":21.42},{"n":"PRAUGHT-LEER","d":773,"v":21.67},{"n":"PRAUGHT-LEER","d":793,"v":21.92},{"n":"PRAUGHT-LEER","d":816,"v":22.23},{"n":"PRAUGHT-LEER","d":828,"v":22.36},{"n":"PRAUGHT-LEER","d":840,"v":22.17},{"n":"PRAUGHT-LEER","d":856,"v":22.1},{"n":"PRAUGHT-LEER","d":871,"v":21.98},{"n":"PRAUGHT-LEER","d":887,"v":22.1},{"n":"PRAUGHT-LEER","d":907,"v":21.86},{"n":"PRAUGHT-LEER","d":927,"v":21.6},{"n":"PRAUGHT-LEER","d":938,"v":21.67},{"n":"PRAUGHT-LEER","d":962,"v":21.6},{"n":"PRAUGHT-LEER","d":982,"v":21.48},{"n":"PRAUGHT-LEER","d":994,"v":21.29},{"n":"PRAUGHT-LEER","d":1006,"v":20.73},{"n":"PRAUGHT-LEER","d":1017,"v":20.92},{"n":"PRAUGHT-LEER","d":1033,"v":20.92},{"n":"PRAUGHT-LEER","d":1049,"v":20.92},{"n":"PRAUGHT-LEER","d":1065,"v":20.92},{"n":"PRAUGHT-LEER","d":1077,"v":21.04},{"n":"PRAUGHT-LEER","d":1088,"v":20.79},{"n":"PRAUGHT-LEER","d":1100,"v":20.48},{"n":"PRAUGHT-LEER","d":1108,"v":20.23},{"n":"PRAUGHT-LEER","d":1120,"v":20.42},{"n":"PRAUGHT-LEER","d":1136,"v":20.42},{"n":"PRAUGHT-LEER","d":1151,"v":20.48},{"n":"PRAUGHT-LEER","d":1167,"v":20.6},{"n":"PRAUGHT-LEER","d":1183,"v":20.35},{"n":"PRAUGHT-LEER","d":1195,"v":20.1},{"n":"PRAUGHT-LEER","d":1211,"v":19.98},{"n":"PRAUGHT-LEER","d":1222,"v":20.29},{"n":"PRAUGHT-LEER","d":1230,"v":20.57},{"n":"PRAUGHT-LEER","d":1242,"v":20.48},{"n":"PRAUGHT-LEER","d":1254,"v":20.23},{"n":"PRAUGHT-LEER","d":1266,"v":20.29},{"n":"PRAUGHT-LEER","d":1274,"v":20.42},{"n":"PRAUGHT-LEER","d":1290,"v":20.35},{"n":"PRAUGHT-LEER","d":1305,"v":20.42},{"n":"PRAUGHT-LEER","d":1317,"v":20.35},{"n":"PRAUGHT-LEER","d":1329,"v":20.67},{"n":"PRAUGHT-LEER","d":1337,"v":20.1},{"n":"PRAUGHT-LEER","d":1353,"v":19.98},{"n":"PRAUGHT-LEER","d":1368,"v":19.92},{"n":"PRAUGHT-LEER","d":1380,"v":19.82},{"n":"PRAUGHT-LEER","d":1392,"v":20.04},{"n":"PRAUGHT-LEER","d":1408,"v":20.23},{"n":"PRAUGHT-LEER","d":1420,"v":20.42},{"n":"PRAUGHT-LEER","d":1432,"v":20.35},{"n":"PRAUGHT-LEER","d":1447,"v":20.6},{"n":"PRAUGHT-LEER","d":1463,"v":20.35},{"n":"PRAUGHT-LEER","d":1479,"v":20.23},{"n":"PRAUGHT-LEER","d":1491,"v":19.85},{"n":"PRAUGHT-LEER","d":1501,"v":18.66},{"n":"PRAUGHT-LEER","d":1503,"v":18.4}
    ]
  },
  "mark": {"type": "line", "interpolate": "monotone", "strokeWidth": 3, "clip": true},
  "encoding": {
    "x": {
      "field": "d",
      "type": "quantitative",
      "title": "distance on Track (m)",
      "scale": {"domain": [7, 1503], "nice": false, "zero": false},
      "axis": {
        "values": [40,80,120,160,200,240,280,320,360,400,440,480,520,560,600,640,680,720,760,800,840,880,920,960,1000,1040,1080,1120,1160,1200,1240,1280,1320,1360,1400,1440,1480],
        "labelExpr": "datum.value % 200 === 0 ? datum.label : ''",
        "format": "d",
        "tickSize": {"condition": {"test": "datum.value % 200 === 0", "value": 10}, "value": 5},
        "gridOpacity": {"condition": {"test": "datum.value % 200 === 0", "value": 1}, "value": 0},
        "labelPadding": 10,
        "titlePadding": 25,
        "labelFlush": false,
        "labelOverlap": false
      }
    },
    "y": {
      "field": "v",
      "type": "quantitative",
      "title": "speed (km/h)",
      "scale": {"domain": [16.25, 28.58], "nice": false, "zero": false},
      "axis": {
        "values": [16.3333,16.6667,17,17.3333,17.6667,18,18.3333,18.6667,19,19.3333,19.6667,20,20.3333,20.6667,21,21.3333,21.6667,22,22.3333,22.6667,23,23.3333,23.6667,24,24.3333,24.6667,25,25.3333,25.6667,26,26.3333,26.6667,27,27.3333,27.6667,28,28.3333],
        "labelExpr": "abs(datum.value - round(datum.value)) < 0.01 ? format(datum.value, 'd') : ''",
        "tickSize": {"condition": {"test": "abs(datum.value - round(datum.value)) < 0.01", "value": 10}, "value": 5},
        "gridOpacity": {"condition": {"test": "abs(datum.value - round(datum.value)) < 0.01", "value": 1}, "value": 0},
        "labelPadding": 10,
        "titlePadding": 16,
        "labelOverlap": false
      }
    },
    "color": {
      "field": "n",
      "type": "nominal",
      "scale": {
        "domain": ["HASSAN","CHEPCHIRCHIR","CHEMUSTO","KIYENG","COURTNEY-BRYANT","GUERRERO","HALL","NANYONDO","JEBITOK","VANDERELST","NUTTALL","GUILLEMOT","MEGGER","McDONALD","ALEMSHET","PRAUGHT-LEER"],
        "range": ["#e6194b","#3cb44b","#ffe119","#4363d8","#f58231","#911eb4","#42d4f4","#f032e6","#bfef45","#fabed4","#469990","#dcbeff","#9a6324","#fffac8","#800000","#aaffc3"]
      },
      "legend": {
        "title": null,
        "orient": "none",
        "legendX": 23,
        "legendY": 472,
        "direction": "horizontal",
        "columns": 6,
        "symbolType": "stroke",
        "symbolSize": 1600,
        "symbolStrokeWidth": 2.5,
        "labelFont": "DejaVu Sans",
        "labelFontSize": 19,
        "labelColor": "#333333",
        "labelOffset": 8,
        "labelLimit": 400,
        "columnPadding": 10,
        "rowPadding": 12.5,
        "padding": 25,
        "fillColor": "rgba(255,255,255,0.72)"
      }
    }
  }
}
